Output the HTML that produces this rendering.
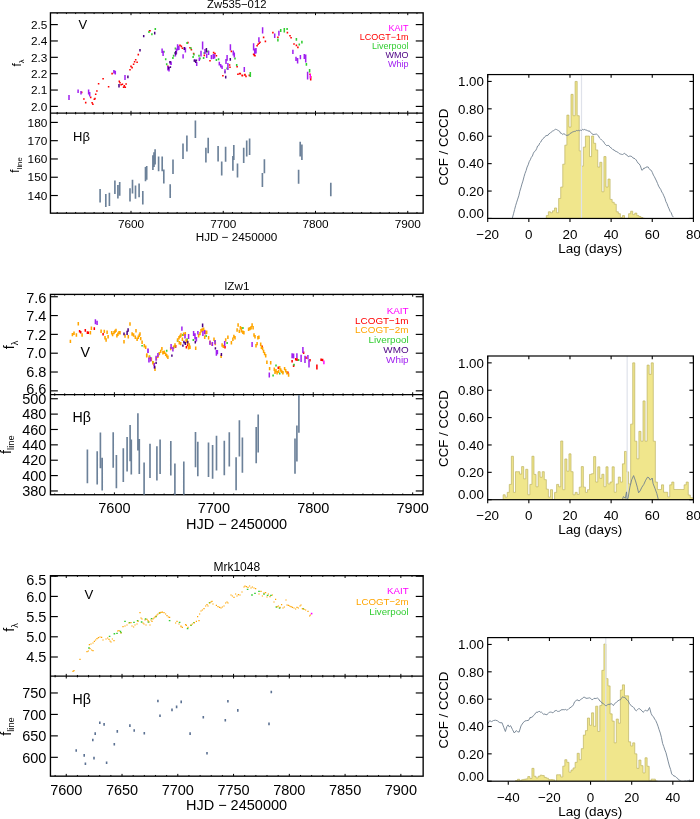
<!DOCTYPE html>
<html><head><meta charset="utf-8"><title>Light curves and CCFs</title>
<style>
html,body{margin:0;padding:0;background:#fff;}
body{width:700px;height:819px;overflow:hidden;font-family:"Liberation Sans",sans-serif;}
svg{display:block;font-family:"Liberation Sans",sans-serif;will-change:transform;transform:translateZ(0);}
</style></head><body>
<svg width="700" height="819" viewBox="0 0 700 819">
<rect width="700" height="819" fill="#fff"/>
<rect x="50.45" y="12.86" width="372.70" height="200.31" fill="none" stroke="#000" stroke-width="1.35"/>
<line x1="50.45" y1="113.17" x2="423.15" y2="113.17" stroke="#000" stroke-width="1.3"/>
<line x1="57.20" y1="12.86" x2="57.20" y2="14.06" stroke="#000" stroke-width="1.0"/>
<line x1="57.20" y1="111.97" x2="57.20" y2="114.37" stroke="#000" stroke-width="1.0"/>
<line x1="57.20" y1="211.97" x2="57.20" y2="213.17" stroke="#000" stroke-width="1.0"/>
<line x1="66.42" y1="12.86" x2="66.42" y2="14.06" stroke="#000" stroke-width="1.0"/>
<line x1="66.42" y1="111.97" x2="66.42" y2="114.37" stroke="#000" stroke-width="1.0"/>
<line x1="66.42" y1="211.97" x2="66.42" y2="213.17" stroke="#000" stroke-width="1.0"/>
<line x1="75.65" y1="12.86" x2="75.65" y2="14.06" stroke="#000" stroke-width="1.0"/>
<line x1="75.65" y1="111.97" x2="75.65" y2="114.37" stroke="#000" stroke-width="1.0"/>
<line x1="75.65" y1="211.97" x2="75.65" y2="213.17" stroke="#000" stroke-width="1.0"/>
<line x1="84.88" y1="12.86" x2="84.88" y2="14.06" stroke="#000" stroke-width="1.0"/>
<line x1="84.88" y1="111.97" x2="84.88" y2="114.37" stroke="#000" stroke-width="1.0"/>
<line x1="84.88" y1="211.97" x2="84.88" y2="213.17" stroke="#000" stroke-width="1.0"/>
<line x1="94.10" y1="12.86" x2="94.10" y2="14.06" stroke="#000" stroke-width="1.0"/>
<line x1="94.10" y1="111.97" x2="94.10" y2="114.37" stroke="#000" stroke-width="1.0"/>
<line x1="94.10" y1="211.97" x2="94.10" y2="213.17" stroke="#000" stroke-width="1.0"/>
<line x1="103.33" y1="12.86" x2="103.33" y2="14.06" stroke="#000" stroke-width="1.0"/>
<line x1="103.33" y1="111.97" x2="103.33" y2="114.37" stroke="#000" stroke-width="1.0"/>
<line x1="103.33" y1="211.97" x2="103.33" y2="213.17" stroke="#000" stroke-width="1.0"/>
<line x1="112.55" y1="12.86" x2="112.55" y2="14.06" stroke="#000" stroke-width="1.0"/>
<line x1="112.55" y1="111.97" x2="112.55" y2="114.37" stroke="#000" stroke-width="1.0"/>
<line x1="112.55" y1="211.97" x2="112.55" y2="213.17" stroke="#000" stroke-width="1.0"/>
<line x1="121.78" y1="12.86" x2="121.78" y2="14.06" stroke="#000" stroke-width="1.0"/>
<line x1="121.78" y1="111.97" x2="121.78" y2="114.37" stroke="#000" stroke-width="1.0"/>
<line x1="121.78" y1="211.97" x2="121.78" y2="213.17" stroke="#000" stroke-width="1.0"/>
<line x1="131.00" y1="12.86" x2="131.00" y2="15.16" stroke="#000" stroke-width="1.0"/>
<line x1="131.00" y1="110.87" x2="131.00" y2="115.47" stroke="#000" stroke-width="1.0"/>
<line x1="131.00" y1="210.87" x2="131.00" y2="213.17" stroke="#000" stroke-width="1.0"/>
<text x="131.00" y="227.80" font-size="11.8" text-anchor="middle" fill="#000" >7600</text>
<line x1="140.22" y1="12.86" x2="140.22" y2="14.06" stroke="#000" stroke-width="1.0"/>
<line x1="140.22" y1="111.97" x2="140.22" y2="114.37" stroke="#000" stroke-width="1.0"/>
<line x1="140.22" y1="211.97" x2="140.22" y2="213.17" stroke="#000" stroke-width="1.0"/>
<line x1="149.45" y1="12.86" x2="149.45" y2="14.06" stroke="#000" stroke-width="1.0"/>
<line x1="149.45" y1="111.97" x2="149.45" y2="114.37" stroke="#000" stroke-width="1.0"/>
<line x1="149.45" y1="211.97" x2="149.45" y2="213.17" stroke="#000" stroke-width="1.0"/>
<line x1="158.68" y1="12.86" x2="158.68" y2="14.06" stroke="#000" stroke-width="1.0"/>
<line x1="158.68" y1="111.97" x2="158.68" y2="114.37" stroke="#000" stroke-width="1.0"/>
<line x1="158.68" y1="211.97" x2="158.68" y2="213.17" stroke="#000" stroke-width="1.0"/>
<line x1="167.90" y1="12.86" x2="167.90" y2="14.06" stroke="#000" stroke-width="1.0"/>
<line x1="167.90" y1="111.97" x2="167.90" y2="114.37" stroke="#000" stroke-width="1.0"/>
<line x1="167.90" y1="211.97" x2="167.90" y2="213.17" stroke="#000" stroke-width="1.0"/>
<line x1="177.12" y1="12.86" x2="177.12" y2="14.06" stroke="#000" stroke-width="1.0"/>
<line x1="177.12" y1="111.97" x2="177.12" y2="114.37" stroke="#000" stroke-width="1.0"/>
<line x1="177.12" y1="211.97" x2="177.12" y2="213.17" stroke="#000" stroke-width="1.0"/>
<line x1="186.35" y1="12.86" x2="186.35" y2="14.06" stroke="#000" stroke-width="1.0"/>
<line x1="186.35" y1="111.97" x2="186.35" y2="114.37" stroke="#000" stroke-width="1.0"/>
<line x1="186.35" y1="211.97" x2="186.35" y2="213.17" stroke="#000" stroke-width="1.0"/>
<line x1="195.57" y1="12.86" x2="195.57" y2="14.06" stroke="#000" stroke-width="1.0"/>
<line x1="195.57" y1="111.97" x2="195.57" y2="114.37" stroke="#000" stroke-width="1.0"/>
<line x1="195.57" y1="211.97" x2="195.57" y2="213.17" stroke="#000" stroke-width="1.0"/>
<line x1="204.80" y1="12.86" x2="204.80" y2="14.06" stroke="#000" stroke-width="1.0"/>
<line x1="204.80" y1="111.97" x2="204.80" y2="114.37" stroke="#000" stroke-width="1.0"/>
<line x1="204.80" y1="211.97" x2="204.80" y2="213.17" stroke="#000" stroke-width="1.0"/>
<line x1="214.03" y1="12.86" x2="214.03" y2="14.06" stroke="#000" stroke-width="1.0"/>
<line x1="214.03" y1="111.97" x2="214.03" y2="114.37" stroke="#000" stroke-width="1.0"/>
<line x1="214.03" y1="211.97" x2="214.03" y2="213.17" stroke="#000" stroke-width="1.0"/>
<line x1="223.25" y1="12.86" x2="223.25" y2="15.16" stroke="#000" stroke-width="1.0"/>
<line x1="223.25" y1="110.87" x2="223.25" y2="115.47" stroke="#000" stroke-width="1.0"/>
<line x1="223.25" y1="210.87" x2="223.25" y2="213.17" stroke="#000" stroke-width="1.0"/>
<text x="223.25" y="227.80" font-size="11.8" text-anchor="middle" fill="#000" >7700</text>
<line x1="232.47" y1="12.86" x2="232.47" y2="14.06" stroke="#000" stroke-width="1.0"/>
<line x1="232.47" y1="111.97" x2="232.47" y2="114.37" stroke="#000" stroke-width="1.0"/>
<line x1="232.47" y1="211.97" x2="232.47" y2="213.17" stroke="#000" stroke-width="1.0"/>
<line x1="241.70" y1="12.86" x2="241.70" y2="14.06" stroke="#000" stroke-width="1.0"/>
<line x1="241.70" y1="111.97" x2="241.70" y2="114.37" stroke="#000" stroke-width="1.0"/>
<line x1="241.70" y1="211.97" x2="241.70" y2="213.17" stroke="#000" stroke-width="1.0"/>
<line x1="250.93" y1="12.86" x2="250.93" y2="14.06" stroke="#000" stroke-width="1.0"/>
<line x1="250.93" y1="111.97" x2="250.93" y2="114.37" stroke="#000" stroke-width="1.0"/>
<line x1="250.93" y1="211.97" x2="250.93" y2="213.17" stroke="#000" stroke-width="1.0"/>
<line x1="260.15" y1="12.86" x2="260.15" y2="14.06" stroke="#000" stroke-width="1.0"/>
<line x1="260.15" y1="111.97" x2="260.15" y2="114.37" stroke="#000" stroke-width="1.0"/>
<line x1="260.15" y1="211.97" x2="260.15" y2="213.17" stroke="#000" stroke-width="1.0"/>
<line x1="269.38" y1="12.86" x2="269.38" y2="14.06" stroke="#000" stroke-width="1.0"/>
<line x1="269.38" y1="111.97" x2="269.38" y2="114.37" stroke="#000" stroke-width="1.0"/>
<line x1="269.38" y1="211.97" x2="269.38" y2="213.17" stroke="#000" stroke-width="1.0"/>
<line x1="278.60" y1="12.86" x2="278.60" y2="14.06" stroke="#000" stroke-width="1.0"/>
<line x1="278.60" y1="111.97" x2="278.60" y2="114.37" stroke="#000" stroke-width="1.0"/>
<line x1="278.60" y1="211.97" x2="278.60" y2="213.17" stroke="#000" stroke-width="1.0"/>
<line x1="287.82" y1="12.86" x2="287.82" y2="14.06" stroke="#000" stroke-width="1.0"/>
<line x1="287.82" y1="111.97" x2="287.82" y2="114.37" stroke="#000" stroke-width="1.0"/>
<line x1="287.82" y1="211.97" x2="287.82" y2="213.17" stroke="#000" stroke-width="1.0"/>
<line x1="297.05" y1="12.86" x2="297.05" y2="14.06" stroke="#000" stroke-width="1.0"/>
<line x1="297.05" y1="111.97" x2="297.05" y2="114.37" stroke="#000" stroke-width="1.0"/>
<line x1="297.05" y1="211.97" x2="297.05" y2="213.17" stroke="#000" stroke-width="1.0"/>
<line x1="306.27" y1="12.86" x2="306.27" y2="14.06" stroke="#000" stroke-width="1.0"/>
<line x1="306.27" y1="111.97" x2="306.27" y2="114.37" stroke="#000" stroke-width="1.0"/>
<line x1="306.27" y1="211.97" x2="306.27" y2="213.17" stroke="#000" stroke-width="1.0"/>
<line x1="315.50" y1="12.86" x2="315.50" y2="15.16" stroke="#000" stroke-width="1.0"/>
<line x1="315.50" y1="110.87" x2="315.50" y2="115.47" stroke="#000" stroke-width="1.0"/>
<line x1="315.50" y1="210.87" x2="315.50" y2="213.17" stroke="#000" stroke-width="1.0"/>
<text x="315.50" y="227.80" font-size="11.8" text-anchor="middle" fill="#000" >7800</text>
<line x1="324.73" y1="12.86" x2="324.73" y2="14.06" stroke="#000" stroke-width="1.0"/>
<line x1="324.73" y1="111.97" x2="324.73" y2="114.37" stroke="#000" stroke-width="1.0"/>
<line x1="324.73" y1="211.97" x2="324.73" y2="213.17" stroke="#000" stroke-width="1.0"/>
<line x1="333.95" y1="12.86" x2="333.95" y2="14.06" stroke="#000" stroke-width="1.0"/>
<line x1="333.95" y1="111.97" x2="333.95" y2="114.37" stroke="#000" stroke-width="1.0"/>
<line x1="333.95" y1="211.97" x2="333.95" y2="213.17" stroke="#000" stroke-width="1.0"/>
<line x1="343.17" y1="12.86" x2="343.17" y2="14.06" stroke="#000" stroke-width="1.0"/>
<line x1="343.17" y1="111.97" x2="343.17" y2="114.37" stroke="#000" stroke-width="1.0"/>
<line x1="343.17" y1="211.97" x2="343.17" y2="213.17" stroke="#000" stroke-width="1.0"/>
<line x1="352.40" y1="12.86" x2="352.40" y2="14.06" stroke="#000" stroke-width="1.0"/>
<line x1="352.40" y1="111.97" x2="352.40" y2="114.37" stroke="#000" stroke-width="1.0"/>
<line x1="352.40" y1="211.97" x2="352.40" y2="213.17" stroke="#000" stroke-width="1.0"/>
<line x1="361.62" y1="12.86" x2="361.62" y2="14.06" stroke="#000" stroke-width="1.0"/>
<line x1="361.62" y1="111.97" x2="361.62" y2="114.37" stroke="#000" stroke-width="1.0"/>
<line x1="361.62" y1="211.97" x2="361.62" y2="213.17" stroke="#000" stroke-width="1.0"/>
<line x1="370.85" y1="12.86" x2="370.85" y2="14.06" stroke="#000" stroke-width="1.0"/>
<line x1="370.85" y1="111.97" x2="370.85" y2="114.37" stroke="#000" stroke-width="1.0"/>
<line x1="370.85" y1="211.97" x2="370.85" y2="213.17" stroke="#000" stroke-width="1.0"/>
<line x1="380.07" y1="12.86" x2="380.07" y2="14.06" stroke="#000" stroke-width="1.0"/>
<line x1="380.07" y1="111.97" x2="380.07" y2="114.37" stroke="#000" stroke-width="1.0"/>
<line x1="380.07" y1="211.97" x2="380.07" y2="213.17" stroke="#000" stroke-width="1.0"/>
<line x1="389.30" y1="12.86" x2="389.30" y2="14.06" stroke="#000" stroke-width="1.0"/>
<line x1="389.30" y1="111.97" x2="389.30" y2="114.37" stroke="#000" stroke-width="1.0"/>
<line x1="389.30" y1="211.97" x2="389.30" y2="213.17" stroke="#000" stroke-width="1.0"/>
<line x1="398.52" y1="12.86" x2="398.52" y2="14.06" stroke="#000" stroke-width="1.0"/>
<line x1="398.52" y1="111.97" x2="398.52" y2="114.37" stroke="#000" stroke-width="1.0"/>
<line x1="398.52" y1="211.97" x2="398.52" y2="213.17" stroke="#000" stroke-width="1.0"/>
<line x1="407.75" y1="12.86" x2="407.75" y2="15.16" stroke="#000" stroke-width="1.0"/>
<line x1="407.75" y1="110.87" x2="407.75" y2="115.47" stroke="#000" stroke-width="1.0"/>
<line x1="407.75" y1="210.87" x2="407.75" y2="213.17" stroke="#000" stroke-width="1.0"/>
<text x="407.75" y="227.80" font-size="11.8" text-anchor="middle" fill="#000" >7900</text>
<line x1="416.98" y1="12.86" x2="416.98" y2="14.06" stroke="#000" stroke-width="1.0"/>
<line x1="416.98" y1="111.97" x2="416.98" y2="114.37" stroke="#000" stroke-width="1.0"/>
<line x1="416.98" y1="211.97" x2="416.98" y2="213.17" stroke="#000" stroke-width="1.0"/>
<line x1="50.45" y1="24.60" x2="57.85" y2="24.60" stroke="#000" stroke-width="1.15"/>
<line x1="415.75" y1="24.60" x2="423.15" y2="24.60" stroke="#000" stroke-width="1.15"/>
<text x="47.30" y="28.82" font-size="11.8" text-anchor="end" fill="#000" >2.5</text>
<line x1="50.45" y1="40.96" x2="57.85" y2="40.96" stroke="#000" stroke-width="1.15"/>
<line x1="415.75" y1="40.96" x2="423.15" y2="40.96" stroke="#000" stroke-width="1.15"/>
<text x="47.30" y="45.18" font-size="11.8" text-anchor="end" fill="#000" >2.4</text>
<line x1="50.45" y1="57.32" x2="57.85" y2="57.32" stroke="#000" stroke-width="1.15"/>
<line x1="415.75" y1="57.32" x2="423.15" y2="57.32" stroke="#000" stroke-width="1.15"/>
<text x="47.30" y="61.54" font-size="11.8" text-anchor="end" fill="#000" >2.3</text>
<line x1="50.45" y1="73.68" x2="57.85" y2="73.68" stroke="#000" stroke-width="1.15"/>
<line x1="415.75" y1="73.68" x2="423.15" y2="73.68" stroke="#000" stroke-width="1.15"/>
<text x="47.30" y="77.90" font-size="11.8" text-anchor="end" fill="#000" >2.2</text>
<line x1="50.45" y1="90.04" x2="57.85" y2="90.04" stroke="#000" stroke-width="1.15"/>
<line x1="415.75" y1="90.04" x2="423.15" y2="90.04" stroke="#000" stroke-width="1.15"/>
<text x="47.30" y="94.26" font-size="11.8" text-anchor="end" fill="#000" >2.1</text>
<line x1="50.45" y1="106.40" x2="57.85" y2="106.40" stroke="#000" stroke-width="1.15"/>
<line x1="415.75" y1="106.40" x2="423.15" y2="106.40" stroke="#000" stroke-width="1.15"/>
<text x="47.30" y="110.62" font-size="11.8" text-anchor="end" fill="#000" >2.0</text>
<line x1="50.45" y1="122.40" x2="57.85" y2="122.40" stroke="#000" stroke-width="1.15"/>
<line x1="415.75" y1="122.40" x2="423.15" y2="122.40" stroke="#000" stroke-width="1.15"/>
<text x="47.30" y="126.62" font-size="11.8" text-anchor="end" fill="#000" >180</text>
<line x1="50.45" y1="140.68" x2="57.85" y2="140.68" stroke="#000" stroke-width="1.15"/>
<line x1="415.75" y1="140.68" x2="423.15" y2="140.68" stroke="#000" stroke-width="1.15"/>
<text x="47.30" y="144.90" font-size="11.8" text-anchor="end" fill="#000" >170</text>
<line x1="50.45" y1="158.96" x2="57.85" y2="158.96" stroke="#000" stroke-width="1.15"/>
<line x1="415.75" y1="158.96" x2="423.15" y2="158.96" stroke="#000" stroke-width="1.15"/>
<text x="47.30" y="163.18" font-size="11.8" text-anchor="end" fill="#000" >160</text>
<line x1="50.45" y1="177.24" x2="57.85" y2="177.24" stroke="#000" stroke-width="1.15"/>
<line x1="415.75" y1="177.24" x2="423.15" y2="177.24" stroke="#000" stroke-width="1.15"/>
<text x="47.30" y="181.46" font-size="11.8" text-anchor="end" fill="#000" >150</text>
<line x1="50.45" y1="195.52" x2="57.85" y2="195.52" stroke="#000" stroke-width="1.15"/>
<line x1="415.75" y1="195.52" x2="423.15" y2="195.52" stroke="#000" stroke-width="1.15"/>
<text x="47.30" y="199.74" font-size="11.8" text-anchor="end" fill="#000" >140</text>
<text x="236.80" y="8.10" font-size="11.3" text-anchor="middle" fill="#000" >Zw535−012</text>
<text x="236.50" y="240.70" font-size="11.7" text-anchor="middle" fill="#000" >HJD − 2450000</text>
<text transform="translate(21.0,63.0) rotate(-90)" font-size="12" text-anchor="middle">f<tspan font-size="7.7" dy="3.2">λ</tspan></text>
<text transform="translate(18.8,165.0) rotate(-90)" font-size="12" text-anchor="middle">f<tspan font-size="7.7" dy="3.2">line</tspan></text>
<text x="78.40" y="28.80" font-size="13" text-anchor="start" fill="#000" >V</text>
<text x="73.00" y="140.80" font-size="13" text-anchor="start" fill="#000" >Hβ</text>
<text x="408.60" y="30.60" font-size="9.0" text-anchor="end" fill="#ff00ff" >KAIT</text>
<text x="408.60" y="39.60" font-size="9.0" text-anchor="end" fill="#ff0000" >LCOGT−1m</text>
<text x="408.60" y="48.60" font-size="9.0" text-anchor="end" fill="#32cd32" >Liverpool</text>
<text x="408.60" y="57.60" font-size="9.0" text-anchor="end" fill="#4b0082" >WMO</text>
<text x="408.60" y="66.60" font-size="9.0" text-anchor="end" fill="#a020f0" >Whip</text>
<rect x="50.45" y="294.40" width="372.70" height="200.32" fill="none" stroke="#000" stroke-width="1.35"/>
<line x1="50.45" y1="394.57" x2="423.15" y2="394.57" stroke="#000" stroke-width="1.3"/>
<line x1="54.74" y1="294.40" x2="54.74" y2="295.60" stroke="#000" stroke-width="1.0"/>
<line x1="54.74" y1="393.37" x2="54.74" y2="395.77" stroke="#000" stroke-width="1.0"/>
<line x1="54.74" y1="493.52" x2="54.74" y2="494.72" stroke="#000" stroke-width="1.0"/>
<line x1="64.69" y1="294.40" x2="64.69" y2="295.60" stroke="#000" stroke-width="1.0"/>
<line x1="64.69" y1="393.37" x2="64.69" y2="395.77" stroke="#000" stroke-width="1.0"/>
<line x1="64.69" y1="493.52" x2="64.69" y2="494.72" stroke="#000" stroke-width="1.0"/>
<line x1="74.63" y1="294.40" x2="74.63" y2="295.60" stroke="#000" stroke-width="1.0"/>
<line x1="74.63" y1="393.37" x2="74.63" y2="395.77" stroke="#000" stroke-width="1.0"/>
<line x1="74.63" y1="493.52" x2="74.63" y2="494.72" stroke="#000" stroke-width="1.0"/>
<line x1="84.57" y1="294.40" x2="84.57" y2="295.60" stroke="#000" stroke-width="1.0"/>
<line x1="84.57" y1="393.37" x2="84.57" y2="395.77" stroke="#000" stroke-width="1.0"/>
<line x1="84.57" y1="493.52" x2="84.57" y2="494.72" stroke="#000" stroke-width="1.0"/>
<line x1="94.51" y1="294.40" x2="94.51" y2="295.60" stroke="#000" stroke-width="1.0"/>
<line x1="94.51" y1="393.37" x2="94.51" y2="395.77" stroke="#000" stroke-width="1.0"/>
<line x1="94.51" y1="493.52" x2="94.51" y2="494.72" stroke="#000" stroke-width="1.0"/>
<line x1="104.46" y1="294.40" x2="104.46" y2="295.60" stroke="#000" stroke-width="1.0"/>
<line x1="104.46" y1="393.37" x2="104.46" y2="395.77" stroke="#000" stroke-width="1.0"/>
<line x1="104.46" y1="493.52" x2="104.46" y2="494.72" stroke="#000" stroke-width="1.0"/>
<line x1="114.40" y1="294.40" x2="114.40" y2="296.70" stroke="#000" stroke-width="1.0"/>
<line x1="114.40" y1="392.27" x2="114.40" y2="396.87" stroke="#000" stroke-width="1.0"/>
<line x1="114.40" y1="492.42" x2="114.40" y2="494.72" stroke="#000" stroke-width="1.0"/>
<text x="114.40" y="513.00" font-size="14.5" text-anchor="middle" fill="#000" >7600</text>
<line x1="124.34" y1="294.40" x2="124.34" y2="295.60" stroke="#000" stroke-width="1.0"/>
<line x1="124.34" y1="393.37" x2="124.34" y2="395.77" stroke="#000" stroke-width="1.0"/>
<line x1="124.34" y1="493.52" x2="124.34" y2="494.72" stroke="#000" stroke-width="1.0"/>
<line x1="134.29" y1="294.40" x2="134.29" y2="295.60" stroke="#000" stroke-width="1.0"/>
<line x1="134.29" y1="393.37" x2="134.29" y2="395.77" stroke="#000" stroke-width="1.0"/>
<line x1="134.29" y1="493.52" x2="134.29" y2="494.72" stroke="#000" stroke-width="1.0"/>
<line x1="144.23" y1="294.40" x2="144.23" y2="295.60" stroke="#000" stroke-width="1.0"/>
<line x1="144.23" y1="393.37" x2="144.23" y2="395.77" stroke="#000" stroke-width="1.0"/>
<line x1="144.23" y1="493.52" x2="144.23" y2="494.72" stroke="#000" stroke-width="1.0"/>
<line x1="154.17" y1="294.40" x2="154.17" y2="295.60" stroke="#000" stroke-width="1.0"/>
<line x1="154.17" y1="393.37" x2="154.17" y2="395.77" stroke="#000" stroke-width="1.0"/>
<line x1="154.17" y1="493.52" x2="154.17" y2="494.72" stroke="#000" stroke-width="1.0"/>
<line x1="164.12" y1="294.40" x2="164.12" y2="295.60" stroke="#000" stroke-width="1.0"/>
<line x1="164.12" y1="393.37" x2="164.12" y2="395.77" stroke="#000" stroke-width="1.0"/>
<line x1="164.12" y1="493.52" x2="164.12" y2="494.72" stroke="#000" stroke-width="1.0"/>
<line x1="174.06" y1="294.40" x2="174.06" y2="295.60" stroke="#000" stroke-width="1.0"/>
<line x1="174.06" y1="393.37" x2="174.06" y2="395.77" stroke="#000" stroke-width="1.0"/>
<line x1="174.06" y1="493.52" x2="174.06" y2="494.72" stroke="#000" stroke-width="1.0"/>
<line x1="184.00" y1="294.40" x2="184.00" y2="295.60" stroke="#000" stroke-width="1.0"/>
<line x1="184.00" y1="393.37" x2="184.00" y2="395.77" stroke="#000" stroke-width="1.0"/>
<line x1="184.00" y1="493.52" x2="184.00" y2="494.72" stroke="#000" stroke-width="1.0"/>
<line x1="193.94" y1="294.40" x2="193.94" y2="295.60" stroke="#000" stroke-width="1.0"/>
<line x1="193.94" y1="393.37" x2="193.94" y2="395.77" stroke="#000" stroke-width="1.0"/>
<line x1="193.94" y1="493.52" x2="193.94" y2="494.72" stroke="#000" stroke-width="1.0"/>
<line x1="203.89" y1="294.40" x2="203.89" y2="295.60" stroke="#000" stroke-width="1.0"/>
<line x1="203.89" y1="393.37" x2="203.89" y2="395.77" stroke="#000" stroke-width="1.0"/>
<line x1="203.89" y1="493.52" x2="203.89" y2="494.72" stroke="#000" stroke-width="1.0"/>
<line x1="213.83" y1="294.40" x2="213.83" y2="296.70" stroke="#000" stroke-width="1.0"/>
<line x1="213.83" y1="392.27" x2="213.83" y2="396.87" stroke="#000" stroke-width="1.0"/>
<line x1="213.83" y1="492.42" x2="213.83" y2="494.72" stroke="#000" stroke-width="1.0"/>
<text x="213.83" y="513.00" font-size="14.5" text-anchor="middle" fill="#000" >7700</text>
<line x1="223.77" y1="294.40" x2="223.77" y2="295.60" stroke="#000" stroke-width="1.0"/>
<line x1="223.77" y1="393.37" x2="223.77" y2="395.77" stroke="#000" stroke-width="1.0"/>
<line x1="223.77" y1="493.52" x2="223.77" y2="494.72" stroke="#000" stroke-width="1.0"/>
<line x1="233.72" y1="294.40" x2="233.72" y2="295.60" stroke="#000" stroke-width="1.0"/>
<line x1="233.72" y1="393.37" x2="233.72" y2="395.77" stroke="#000" stroke-width="1.0"/>
<line x1="233.72" y1="493.52" x2="233.72" y2="494.72" stroke="#000" stroke-width="1.0"/>
<line x1="243.66" y1="294.40" x2="243.66" y2="295.60" stroke="#000" stroke-width="1.0"/>
<line x1="243.66" y1="393.37" x2="243.66" y2="395.77" stroke="#000" stroke-width="1.0"/>
<line x1="243.66" y1="493.52" x2="243.66" y2="494.72" stroke="#000" stroke-width="1.0"/>
<line x1="253.60" y1="294.40" x2="253.60" y2="295.60" stroke="#000" stroke-width="1.0"/>
<line x1="253.60" y1="393.37" x2="253.60" y2="395.77" stroke="#000" stroke-width="1.0"/>
<line x1="253.60" y1="493.52" x2="253.60" y2="494.72" stroke="#000" stroke-width="1.0"/>
<line x1="263.54" y1="294.40" x2="263.54" y2="295.60" stroke="#000" stroke-width="1.0"/>
<line x1="263.54" y1="393.37" x2="263.54" y2="395.77" stroke="#000" stroke-width="1.0"/>
<line x1="263.54" y1="493.52" x2="263.54" y2="494.72" stroke="#000" stroke-width="1.0"/>
<line x1="273.49" y1="294.40" x2="273.49" y2="295.60" stroke="#000" stroke-width="1.0"/>
<line x1="273.49" y1="393.37" x2="273.49" y2="395.77" stroke="#000" stroke-width="1.0"/>
<line x1="273.49" y1="493.52" x2="273.49" y2="494.72" stroke="#000" stroke-width="1.0"/>
<line x1="283.43" y1="294.40" x2="283.43" y2="295.60" stroke="#000" stroke-width="1.0"/>
<line x1="283.43" y1="393.37" x2="283.43" y2="395.77" stroke="#000" stroke-width="1.0"/>
<line x1="283.43" y1="493.52" x2="283.43" y2="494.72" stroke="#000" stroke-width="1.0"/>
<line x1="293.37" y1="294.40" x2="293.37" y2="295.60" stroke="#000" stroke-width="1.0"/>
<line x1="293.37" y1="393.37" x2="293.37" y2="395.77" stroke="#000" stroke-width="1.0"/>
<line x1="293.37" y1="493.52" x2="293.37" y2="494.72" stroke="#000" stroke-width="1.0"/>
<line x1="303.32" y1="294.40" x2="303.32" y2="295.60" stroke="#000" stroke-width="1.0"/>
<line x1="303.32" y1="393.37" x2="303.32" y2="395.77" stroke="#000" stroke-width="1.0"/>
<line x1="303.32" y1="493.52" x2="303.32" y2="494.72" stroke="#000" stroke-width="1.0"/>
<line x1="313.26" y1="294.40" x2="313.26" y2="296.70" stroke="#000" stroke-width="1.0"/>
<line x1="313.26" y1="392.27" x2="313.26" y2="396.87" stroke="#000" stroke-width="1.0"/>
<line x1="313.26" y1="492.42" x2="313.26" y2="494.72" stroke="#000" stroke-width="1.0"/>
<text x="313.26" y="513.00" font-size="14.5" text-anchor="middle" fill="#000" >7800</text>
<line x1="323.20" y1="294.40" x2="323.20" y2="295.60" stroke="#000" stroke-width="1.0"/>
<line x1="323.20" y1="393.37" x2="323.20" y2="395.77" stroke="#000" stroke-width="1.0"/>
<line x1="323.20" y1="493.52" x2="323.20" y2="494.72" stroke="#000" stroke-width="1.0"/>
<line x1="333.15" y1="294.40" x2="333.15" y2="295.60" stroke="#000" stroke-width="1.0"/>
<line x1="333.15" y1="393.37" x2="333.15" y2="395.77" stroke="#000" stroke-width="1.0"/>
<line x1="333.15" y1="493.52" x2="333.15" y2="494.72" stroke="#000" stroke-width="1.0"/>
<line x1="343.09" y1="294.40" x2="343.09" y2="295.60" stroke="#000" stroke-width="1.0"/>
<line x1="343.09" y1="393.37" x2="343.09" y2="395.77" stroke="#000" stroke-width="1.0"/>
<line x1="343.09" y1="493.52" x2="343.09" y2="494.72" stroke="#000" stroke-width="1.0"/>
<line x1="353.03" y1="294.40" x2="353.03" y2="295.60" stroke="#000" stroke-width="1.0"/>
<line x1="353.03" y1="393.37" x2="353.03" y2="395.77" stroke="#000" stroke-width="1.0"/>
<line x1="353.03" y1="493.52" x2="353.03" y2="494.72" stroke="#000" stroke-width="1.0"/>
<line x1="362.98" y1="294.40" x2="362.98" y2="295.60" stroke="#000" stroke-width="1.0"/>
<line x1="362.98" y1="393.37" x2="362.98" y2="395.77" stroke="#000" stroke-width="1.0"/>
<line x1="362.98" y1="493.52" x2="362.98" y2="494.72" stroke="#000" stroke-width="1.0"/>
<line x1="372.92" y1="294.40" x2="372.92" y2="295.60" stroke="#000" stroke-width="1.0"/>
<line x1="372.92" y1="393.37" x2="372.92" y2="395.77" stroke="#000" stroke-width="1.0"/>
<line x1="372.92" y1="493.52" x2="372.92" y2="494.72" stroke="#000" stroke-width="1.0"/>
<line x1="382.86" y1="294.40" x2="382.86" y2="295.60" stroke="#000" stroke-width="1.0"/>
<line x1="382.86" y1="393.37" x2="382.86" y2="395.77" stroke="#000" stroke-width="1.0"/>
<line x1="382.86" y1="493.52" x2="382.86" y2="494.72" stroke="#000" stroke-width="1.0"/>
<line x1="392.80" y1="294.40" x2="392.80" y2="295.60" stroke="#000" stroke-width="1.0"/>
<line x1="392.80" y1="393.37" x2="392.80" y2="395.77" stroke="#000" stroke-width="1.0"/>
<line x1="392.80" y1="493.52" x2="392.80" y2="494.72" stroke="#000" stroke-width="1.0"/>
<line x1="402.75" y1="294.40" x2="402.75" y2="295.60" stroke="#000" stroke-width="1.0"/>
<line x1="402.75" y1="393.37" x2="402.75" y2="395.77" stroke="#000" stroke-width="1.0"/>
<line x1="402.75" y1="493.52" x2="402.75" y2="494.72" stroke="#000" stroke-width="1.0"/>
<line x1="412.69" y1="294.40" x2="412.69" y2="296.70" stroke="#000" stroke-width="1.0"/>
<line x1="412.69" y1="392.27" x2="412.69" y2="396.87" stroke="#000" stroke-width="1.0"/>
<line x1="412.69" y1="492.42" x2="412.69" y2="494.72" stroke="#000" stroke-width="1.0"/>
<text x="412.69" y="513.00" font-size="14.5" text-anchor="middle" fill="#000" >7900</text>
<line x1="422.63" y1="294.40" x2="422.63" y2="295.60" stroke="#000" stroke-width="1.0"/>
<line x1="422.63" y1="393.37" x2="422.63" y2="395.77" stroke="#000" stroke-width="1.0"/>
<line x1="422.63" y1="493.52" x2="422.63" y2="494.72" stroke="#000" stroke-width="1.0"/>
<line x1="50.45" y1="296.74" x2="57.85" y2="296.74" stroke="#000" stroke-width="1.15"/>
<line x1="415.75" y1="296.74" x2="423.15" y2="296.74" stroke="#000" stroke-width="1.15"/>
<text x="46.40" y="302.73" font-size="14.5" text-anchor="end" fill="#000" >7.6</text>
<line x1="50.45" y1="315.56" x2="57.85" y2="315.56" stroke="#000" stroke-width="1.15"/>
<line x1="415.75" y1="315.56" x2="423.15" y2="315.56" stroke="#000" stroke-width="1.15"/>
<text x="46.40" y="320.75" font-size="14.5" text-anchor="end" fill="#000" >7.4</text>
<line x1="50.45" y1="334.38" x2="57.85" y2="334.38" stroke="#000" stroke-width="1.15"/>
<line x1="415.75" y1="334.38" x2="423.15" y2="334.38" stroke="#000" stroke-width="1.15"/>
<text x="46.40" y="339.57" font-size="14.5" text-anchor="end" fill="#000" >7.2</text>
<line x1="50.45" y1="353.20" x2="57.85" y2="353.20" stroke="#000" stroke-width="1.15"/>
<line x1="415.75" y1="353.20" x2="423.15" y2="353.20" stroke="#000" stroke-width="1.15"/>
<text x="46.40" y="358.39" font-size="14.5" text-anchor="end" fill="#000" >7.0</text>
<line x1="50.45" y1="372.02" x2="57.85" y2="372.02" stroke="#000" stroke-width="1.15"/>
<line x1="415.75" y1="372.02" x2="423.15" y2="372.02" stroke="#000" stroke-width="1.15"/>
<text x="46.40" y="377.21" font-size="14.5" text-anchor="end" fill="#000" >6.8</text>
<line x1="50.45" y1="390.84" x2="57.85" y2="390.84" stroke="#000" stroke-width="1.15"/>
<line x1="415.75" y1="390.84" x2="423.15" y2="390.84" stroke="#000" stroke-width="1.15"/>
<text x="46.40" y="393.93" font-size="14.5" text-anchor="end" fill="#000" >6.6</text>
<line x1="50.45" y1="398.74" x2="57.85" y2="398.74" stroke="#000" stroke-width="1.15"/>
<line x1="415.75" y1="398.74" x2="423.15" y2="398.74" stroke="#000" stroke-width="1.15"/>
<text x="46.40" y="403.63" font-size="14.5" text-anchor="end" fill="#000" >500</text>
<line x1="50.45" y1="414.11" x2="57.85" y2="414.11" stroke="#000" stroke-width="1.15"/>
<line x1="415.75" y1="414.11" x2="423.15" y2="414.11" stroke="#000" stroke-width="1.15"/>
<text x="46.40" y="419.30" font-size="14.5" text-anchor="end" fill="#000" >480</text>
<line x1="50.45" y1="429.48" x2="57.85" y2="429.48" stroke="#000" stroke-width="1.15"/>
<line x1="415.75" y1="429.48" x2="423.15" y2="429.48" stroke="#000" stroke-width="1.15"/>
<text x="46.40" y="434.67" font-size="14.5" text-anchor="end" fill="#000" >460</text>
<line x1="50.45" y1="444.85" x2="57.85" y2="444.85" stroke="#000" stroke-width="1.15"/>
<line x1="415.75" y1="444.85" x2="423.15" y2="444.85" stroke="#000" stroke-width="1.15"/>
<text x="46.40" y="450.04" font-size="14.5" text-anchor="end" fill="#000" >440</text>
<line x1="50.45" y1="460.22" x2="57.85" y2="460.22" stroke="#000" stroke-width="1.15"/>
<line x1="415.75" y1="460.22" x2="423.15" y2="460.22" stroke="#000" stroke-width="1.15"/>
<text x="46.40" y="465.41" font-size="14.5" text-anchor="end" fill="#000" >420</text>
<line x1="50.45" y1="475.59" x2="57.85" y2="475.59" stroke="#000" stroke-width="1.15"/>
<line x1="415.75" y1="475.59" x2="423.15" y2="475.59" stroke="#000" stroke-width="1.15"/>
<text x="46.40" y="480.78" font-size="14.5" text-anchor="end" fill="#000" >400</text>
<line x1="50.45" y1="490.96" x2="57.85" y2="490.96" stroke="#000" stroke-width="1.15"/>
<line x1="415.75" y1="490.96" x2="423.15" y2="490.96" stroke="#000" stroke-width="1.15"/>
<text x="46.40" y="496.15" font-size="14.5" text-anchor="end" fill="#000" >380</text>
<text x="236.80" y="289.50" font-size="11.7" text-anchor="middle" fill="#000" >IZw1</text>
<text x="236.50" y="528.60" font-size="14.5" text-anchor="middle" fill="#000" >HJD − 2450000</text>
<text transform="translate(14.4,345.0) rotate(-90)" font-size="14.6" text-anchor="middle">f<tspan font-size="9.3" dy="3.9">λ</tspan></text>
<text transform="translate(10.5,444.7) rotate(-90)" font-size="14.6" text-anchor="middle">f<tspan font-size="9.3" dy="3.9">line</tspan></text>
<text x="80.40" y="356.70" font-size="14.3" text-anchor="start" fill="#000" >V</text>
<text x="72.60" y="422.20" font-size="14.2" text-anchor="start" fill="#000" >Hβ</text>
<text x="408.60" y="313.80" font-size="9.9" text-anchor="end" fill="#ff00ff" >KAIT</text>
<text x="408.60" y="323.54" font-size="9.9" text-anchor="end" fill="#ff0000" >LCOGT−1m</text>
<text x="408.60" y="333.28" font-size="9.9" text-anchor="end" fill="#ffa500" >LCOGT−2m</text>
<text x="408.60" y="343.02" font-size="9.9" text-anchor="end" fill="#32cd32" >Liverpool</text>
<text x="408.60" y="352.76" font-size="9.9" text-anchor="end" fill="#4b0082" >WMO</text>
<text x="408.60" y="362.50" font-size="9.9" text-anchor="end" fill="#a020f0" >Whip</text>
<rect x="50.45" y="575.70" width="372.70" height="200.47" fill="none" stroke="#000" stroke-width="1.35"/>
<line x1="50.45" y1="676.17" x2="423.15" y2="676.17" stroke="#000" stroke-width="1.3"/>
<line x1="55.11" y1="575.70" x2="55.11" y2="576.90" stroke="#000" stroke-width="1.0"/>
<line x1="55.11" y1="674.97" x2="55.11" y2="677.37" stroke="#000" stroke-width="1.0"/>
<line x1="55.11" y1="774.97" x2="55.11" y2="776.17" stroke="#000" stroke-width="1.0"/>
<line x1="66.26" y1="575.70" x2="66.26" y2="578.00" stroke="#000" stroke-width="1.0"/>
<line x1="66.26" y1="673.87" x2="66.26" y2="678.47" stroke="#000" stroke-width="1.0"/>
<line x1="66.26" y1="773.87" x2="66.26" y2="776.17" stroke="#000" stroke-width="1.0"/>
<text x="66.26" y="794.70" font-size="14.5" text-anchor="middle" fill="#000" >7600</text>
<line x1="77.41" y1="575.70" x2="77.41" y2="576.90" stroke="#000" stroke-width="1.0"/>
<line x1="77.41" y1="674.97" x2="77.41" y2="677.37" stroke="#000" stroke-width="1.0"/>
<line x1="77.41" y1="774.97" x2="77.41" y2="776.17" stroke="#000" stroke-width="1.0"/>
<line x1="88.57" y1="575.70" x2="88.57" y2="576.90" stroke="#000" stroke-width="1.0"/>
<line x1="88.57" y1="674.97" x2="88.57" y2="677.37" stroke="#000" stroke-width="1.0"/>
<line x1="88.57" y1="774.97" x2="88.57" y2="776.17" stroke="#000" stroke-width="1.0"/>
<line x1="99.72" y1="575.70" x2="99.72" y2="576.90" stroke="#000" stroke-width="1.0"/>
<line x1="99.72" y1="674.97" x2="99.72" y2="677.37" stroke="#000" stroke-width="1.0"/>
<line x1="99.72" y1="774.97" x2="99.72" y2="776.17" stroke="#000" stroke-width="1.0"/>
<line x1="110.87" y1="575.70" x2="110.87" y2="576.90" stroke="#000" stroke-width="1.0"/>
<line x1="110.87" y1="674.97" x2="110.87" y2="677.37" stroke="#000" stroke-width="1.0"/>
<line x1="110.87" y1="774.97" x2="110.87" y2="776.17" stroke="#000" stroke-width="1.0"/>
<line x1="122.03" y1="575.70" x2="122.03" y2="578.00" stroke="#000" stroke-width="1.0"/>
<line x1="122.03" y1="673.87" x2="122.03" y2="678.47" stroke="#000" stroke-width="1.0"/>
<line x1="122.03" y1="773.87" x2="122.03" y2="776.17" stroke="#000" stroke-width="1.0"/>
<text x="122.03" y="794.70" font-size="14.5" text-anchor="middle" fill="#000" >7650</text>
<line x1="133.18" y1="575.70" x2="133.18" y2="576.90" stroke="#000" stroke-width="1.0"/>
<line x1="133.18" y1="674.97" x2="133.18" y2="677.37" stroke="#000" stroke-width="1.0"/>
<line x1="133.18" y1="774.97" x2="133.18" y2="776.17" stroke="#000" stroke-width="1.0"/>
<line x1="144.33" y1="575.70" x2="144.33" y2="576.90" stroke="#000" stroke-width="1.0"/>
<line x1="144.33" y1="674.97" x2="144.33" y2="677.37" stroke="#000" stroke-width="1.0"/>
<line x1="144.33" y1="774.97" x2="144.33" y2="776.17" stroke="#000" stroke-width="1.0"/>
<line x1="155.48" y1="575.70" x2="155.48" y2="576.90" stroke="#000" stroke-width="1.0"/>
<line x1="155.48" y1="674.97" x2="155.48" y2="677.37" stroke="#000" stroke-width="1.0"/>
<line x1="155.48" y1="774.97" x2="155.48" y2="776.17" stroke="#000" stroke-width="1.0"/>
<line x1="166.64" y1="575.70" x2="166.64" y2="576.90" stroke="#000" stroke-width="1.0"/>
<line x1="166.64" y1="674.97" x2="166.64" y2="677.37" stroke="#000" stroke-width="1.0"/>
<line x1="166.64" y1="774.97" x2="166.64" y2="776.17" stroke="#000" stroke-width="1.0"/>
<line x1="177.79" y1="575.70" x2="177.79" y2="578.00" stroke="#000" stroke-width="1.0"/>
<line x1="177.79" y1="673.87" x2="177.79" y2="678.47" stroke="#000" stroke-width="1.0"/>
<line x1="177.79" y1="773.87" x2="177.79" y2="776.17" stroke="#000" stroke-width="1.0"/>
<text x="177.79" y="794.70" font-size="14.5" text-anchor="middle" fill="#000" >7700</text>
<line x1="188.94" y1="575.70" x2="188.94" y2="576.90" stroke="#000" stroke-width="1.0"/>
<line x1="188.94" y1="674.97" x2="188.94" y2="677.37" stroke="#000" stroke-width="1.0"/>
<line x1="188.94" y1="774.97" x2="188.94" y2="776.17" stroke="#000" stroke-width="1.0"/>
<line x1="200.10" y1="575.70" x2="200.10" y2="576.90" stroke="#000" stroke-width="1.0"/>
<line x1="200.10" y1="674.97" x2="200.10" y2="677.37" stroke="#000" stroke-width="1.0"/>
<line x1="200.10" y1="774.97" x2="200.10" y2="776.17" stroke="#000" stroke-width="1.0"/>
<line x1="211.25" y1="575.70" x2="211.25" y2="576.90" stroke="#000" stroke-width="1.0"/>
<line x1="211.25" y1="674.97" x2="211.25" y2="677.37" stroke="#000" stroke-width="1.0"/>
<line x1="211.25" y1="774.97" x2="211.25" y2="776.17" stroke="#000" stroke-width="1.0"/>
<line x1="222.40" y1="575.70" x2="222.40" y2="576.90" stroke="#000" stroke-width="1.0"/>
<line x1="222.40" y1="674.97" x2="222.40" y2="677.37" stroke="#000" stroke-width="1.0"/>
<line x1="222.40" y1="774.97" x2="222.40" y2="776.17" stroke="#000" stroke-width="1.0"/>
<line x1="233.56" y1="575.70" x2="233.56" y2="578.00" stroke="#000" stroke-width="1.0"/>
<line x1="233.56" y1="673.87" x2="233.56" y2="678.47" stroke="#000" stroke-width="1.0"/>
<line x1="233.56" y1="773.87" x2="233.56" y2="776.17" stroke="#000" stroke-width="1.0"/>
<text x="233.56" y="794.70" font-size="14.5" text-anchor="middle" fill="#000" >7750</text>
<line x1="244.71" y1="575.70" x2="244.71" y2="576.90" stroke="#000" stroke-width="1.0"/>
<line x1="244.71" y1="674.97" x2="244.71" y2="677.37" stroke="#000" stroke-width="1.0"/>
<line x1="244.71" y1="774.97" x2="244.71" y2="776.17" stroke="#000" stroke-width="1.0"/>
<line x1="255.86" y1="575.70" x2="255.86" y2="576.90" stroke="#000" stroke-width="1.0"/>
<line x1="255.86" y1="674.97" x2="255.86" y2="677.37" stroke="#000" stroke-width="1.0"/>
<line x1="255.86" y1="774.97" x2="255.86" y2="776.17" stroke="#000" stroke-width="1.0"/>
<line x1="267.01" y1="575.70" x2="267.01" y2="576.90" stroke="#000" stroke-width="1.0"/>
<line x1="267.01" y1="674.97" x2="267.01" y2="677.37" stroke="#000" stroke-width="1.0"/>
<line x1="267.01" y1="774.97" x2="267.01" y2="776.17" stroke="#000" stroke-width="1.0"/>
<line x1="278.17" y1="575.70" x2="278.17" y2="576.90" stroke="#000" stroke-width="1.0"/>
<line x1="278.17" y1="674.97" x2="278.17" y2="677.37" stroke="#000" stroke-width="1.0"/>
<line x1="278.17" y1="774.97" x2="278.17" y2="776.17" stroke="#000" stroke-width="1.0"/>
<line x1="289.32" y1="575.70" x2="289.32" y2="578.00" stroke="#000" stroke-width="1.0"/>
<line x1="289.32" y1="673.87" x2="289.32" y2="678.47" stroke="#000" stroke-width="1.0"/>
<line x1="289.32" y1="773.87" x2="289.32" y2="776.17" stroke="#000" stroke-width="1.0"/>
<text x="289.32" y="794.70" font-size="14.5" text-anchor="middle" fill="#000" >7800</text>
<line x1="300.47" y1="575.70" x2="300.47" y2="576.90" stroke="#000" stroke-width="1.0"/>
<line x1="300.47" y1="674.97" x2="300.47" y2="677.37" stroke="#000" stroke-width="1.0"/>
<line x1="300.47" y1="774.97" x2="300.47" y2="776.17" stroke="#000" stroke-width="1.0"/>
<line x1="311.63" y1="575.70" x2="311.63" y2="576.90" stroke="#000" stroke-width="1.0"/>
<line x1="311.63" y1="674.97" x2="311.63" y2="677.37" stroke="#000" stroke-width="1.0"/>
<line x1="311.63" y1="774.97" x2="311.63" y2="776.17" stroke="#000" stroke-width="1.0"/>
<line x1="322.78" y1="575.70" x2="322.78" y2="576.90" stroke="#000" stroke-width="1.0"/>
<line x1="322.78" y1="674.97" x2="322.78" y2="677.37" stroke="#000" stroke-width="1.0"/>
<line x1="322.78" y1="774.97" x2="322.78" y2="776.17" stroke="#000" stroke-width="1.0"/>
<line x1="333.93" y1="575.70" x2="333.93" y2="576.90" stroke="#000" stroke-width="1.0"/>
<line x1="333.93" y1="674.97" x2="333.93" y2="677.37" stroke="#000" stroke-width="1.0"/>
<line x1="333.93" y1="774.97" x2="333.93" y2="776.17" stroke="#000" stroke-width="1.0"/>
<line x1="345.08" y1="575.70" x2="345.08" y2="578.00" stroke="#000" stroke-width="1.0"/>
<line x1="345.08" y1="673.87" x2="345.08" y2="678.47" stroke="#000" stroke-width="1.0"/>
<line x1="345.08" y1="773.87" x2="345.08" y2="776.17" stroke="#000" stroke-width="1.0"/>
<text x="345.08" y="794.70" font-size="14.5" text-anchor="middle" fill="#000" >7850</text>
<line x1="356.24" y1="575.70" x2="356.24" y2="576.90" stroke="#000" stroke-width="1.0"/>
<line x1="356.24" y1="674.97" x2="356.24" y2="677.37" stroke="#000" stroke-width="1.0"/>
<line x1="356.24" y1="774.97" x2="356.24" y2="776.17" stroke="#000" stroke-width="1.0"/>
<line x1="367.39" y1="575.70" x2="367.39" y2="576.90" stroke="#000" stroke-width="1.0"/>
<line x1="367.39" y1="674.97" x2="367.39" y2="677.37" stroke="#000" stroke-width="1.0"/>
<line x1="367.39" y1="774.97" x2="367.39" y2="776.17" stroke="#000" stroke-width="1.0"/>
<line x1="378.54" y1="575.70" x2="378.54" y2="576.90" stroke="#000" stroke-width="1.0"/>
<line x1="378.54" y1="674.97" x2="378.54" y2="677.37" stroke="#000" stroke-width="1.0"/>
<line x1="378.54" y1="774.97" x2="378.54" y2="776.17" stroke="#000" stroke-width="1.0"/>
<line x1="389.70" y1="575.70" x2="389.70" y2="576.90" stroke="#000" stroke-width="1.0"/>
<line x1="389.70" y1="674.97" x2="389.70" y2="677.37" stroke="#000" stroke-width="1.0"/>
<line x1="389.70" y1="774.97" x2="389.70" y2="776.17" stroke="#000" stroke-width="1.0"/>
<line x1="400.85" y1="575.70" x2="400.85" y2="578.00" stroke="#000" stroke-width="1.0"/>
<line x1="400.85" y1="673.87" x2="400.85" y2="678.47" stroke="#000" stroke-width="1.0"/>
<line x1="400.85" y1="773.87" x2="400.85" y2="776.17" stroke="#000" stroke-width="1.0"/>
<text x="400.85" y="794.70" font-size="14.5" text-anchor="middle" fill="#000" >7900</text>
<line x1="412.00" y1="575.70" x2="412.00" y2="576.90" stroke="#000" stroke-width="1.0"/>
<line x1="412.00" y1="674.97" x2="412.00" y2="677.37" stroke="#000" stroke-width="1.0"/>
<line x1="412.00" y1="774.97" x2="412.00" y2="776.17" stroke="#000" stroke-width="1.0"/>
<line x1="50.45" y1="576.20" x2="57.85" y2="576.20" stroke="#000" stroke-width="1.15"/>
<line x1="415.75" y1="576.20" x2="423.15" y2="576.20" stroke="#000" stroke-width="1.15"/>
<text x="46.40" y="584.69" font-size="14.5" text-anchor="end" fill="#000" >6.5</text>
<line x1="50.45" y1="596.40" x2="57.85" y2="596.40" stroke="#000" stroke-width="1.15"/>
<line x1="415.75" y1="596.40" x2="423.15" y2="596.40" stroke="#000" stroke-width="1.15"/>
<text x="46.40" y="601.59" font-size="14.5" text-anchor="end" fill="#000" >6.0</text>
<line x1="50.45" y1="616.60" x2="57.85" y2="616.60" stroke="#000" stroke-width="1.15"/>
<line x1="415.75" y1="616.60" x2="423.15" y2="616.60" stroke="#000" stroke-width="1.15"/>
<text x="46.40" y="621.79" font-size="14.5" text-anchor="end" fill="#000" >5.5</text>
<line x1="50.45" y1="636.80" x2="57.85" y2="636.80" stroke="#000" stroke-width="1.15"/>
<line x1="415.75" y1="636.80" x2="423.15" y2="636.80" stroke="#000" stroke-width="1.15"/>
<text x="46.40" y="641.99" font-size="14.5" text-anchor="end" fill="#000" >5.0</text>
<line x1="50.45" y1="657.00" x2="57.85" y2="657.00" stroke="#000" stroke-width="1.15"/>
<line x1="415.75" y1="657.00" x2="423.15" y2="657.00" stroke="#000" stroke-width="1.15"/>
<text x="46.40" y="662.19" font-size="14.5" text-anchor="end" fill="#000" >4.5</text>
<line x1="50.45" y1="692.97" x2="57.85" y2="692.97" stroke="#000" stroke-width="1.15"/>
<line x1="415.75" y1="692.97" x2="423.15" y2="692.97" stroke="#000" stroke-width="1.15"/>
<text x="46.40" y="698.16" font-size="14.5" text-anchor="end" fill="#000" >750</text>
<line x1="50.45" y1="714.42" x2="57.85" y2="714.42" stroke="#000" stroke-width="1.15"/>
<line x1="415.75" y1="714.42" x2="423.15" y2="714.42" stroke="#000" stroke-width="1.15"/>
<text x="46.40" y="719.61" font-size="14.5" text-anchor="end" fill="#000" >700</text>
<line x1="50.45" y1="735.87" x2="57.85" y2="735.87" stroke="#000" stroke-width="1.15"/>
<line x1="415.75" y1="735.87" x2="423.15" y2="735.87" stroke="#000" stroke-width="1.15"/>
<text x="46.40" y="741.06" font-size="14.5" text-anchor="end" fill="#000" >650</text>
<line x1="50.45" y1="757.32" x2="57.85" y2="757.32" stroke="#000" stroke-width="1.15"/>
<line x1="415.75" y1="757.32" x2="423.15" y2="757.32" stroke="#000" stroke-width="1.15"/>
<text x="46.40" y="762.51" font-size="14.5" text-anchor="end" fill="#000" >600</text>
<text x="236.80" y="570.70" font-size="12.0" text-anchor="middle" fill="#000" >Mrk1048</text>
<text x="236.50" y="809.70" font-size="14.5" text-anchor="middle" fill="#000" >HJD − 2450000</text>
<text transform="translate(14.2,627.5) rotate(-90)" font-size="14.6" text-anchor="middle">f<tspan font-size="9.3" dy="3.9">λ</tspan></text>
<text transform="translate(10.5,726.5) rotate(-90)" font-size="14.6" text-anchor="middle">f<tspan font-size="9.3" dy="3.9">line</tspan></text>
<text x="84.60" y="598.60" font-size="13.2" text-anchor="start" fill="#000" >V</text>
<text x="72.60" y="703.60" font-size="14.2" text-anchor="start" fill="#000" >Hβ</text>
<text x="408.60" y="594.40" font-size="9.7" text-anchor="end" fill="#ff00ff" >KAIT</text>
<text x="408.60" y="604.60" font-size="9.7" text-anchor="end" fill="#ffa500" >LCOGT−2m</text>
<text x="408.60" y="614.80" font-size="9.7" text-anchor="end" fill="#32cd32" >Liverpool</text>
<path d="M81.7 91.6V93.2M83.9 98.2V99.8M85.7 101.8V103.4M90.7 96.6V98.2M92.1 102.1V103.6M92.9 103.5V105.1M94.3 98.5V100.1M95.0 97.8V99.4M95.7 93.5V95.1M96.9 90.2V91.8M98.6 83.1V84.6M103.1 78.1V79.6M108.6 86.1V87.6M112.1 72.8V74.4M119.3 80.6V82.2M120.0 82.1V83.6M121.1 83.9V85.5M122.4 83.5V85.1M123.6 86.4V87.9M124.3 84.9V86.5M125.3 86.4V87.9M126.1 83.2V84.8M130.0 68.9V70.5M131.0 65.6V67.2M132.1 66.8V68.4M133.6 63.5V65.1M134.6 60.9V62.5M135.7 58.9V60.5M137.1 61.4V62.9M138.3 53.8V55.4M149.6 29.9V31.5M150.0 29.9V31.5M167.9 65.6V67.2M180.0 44.6V46.2M181.4 45.6V47.2M182.4 47.5V49.1M187.9 41.8V43.4M190.0 47.1V48.6M191.4 48.9V50.5M193.6 52.8V54.4M204.3 54.6V56.2M210.0 59.9V61.5M213.6 51.8V53.4M215.0 52.8V54.4M216.4 54.9V56.5M222.9 74.9V76.5M229.6 64.2V65.8M230.0 66.4V67.9M231.4 50.6V52.2M237.1 66.1V67.6M237.9 73.5V75.1M239.6 72.8V74.4M242.4 74.9V76.5M244.6 74.2V75.8M240.3 72.8V74.4M242.1 74.6V76.2M245.0 73.8V75.4M246.0 75.6V77.2M249.3 74.6V76.2M254.3 53.7V56.3M253.6 53.5V55.1M255.0 54.9V56.5M257.1 44.9V46.5M258.1 43.5V45.1M259.3 42.4V43.9M260.0 41.4V42.9M263.6 36.6V38.2M265.4 40.6V42.2M272.9 31.8V33.4M277.9 36.4V37.9M287.4 31.8V33.4M290.0 34.9V36.5M291.1 37.1V38.6M294.0 43.2V44.8M296.4 44.6V46.2M297.9 46.6V48.2M310.0 73.5V75.1M310.7 76.1V80.4" stroke="#ff0000" stroke-width="1.55" fill="none"/>
<path d="M79.6 329.9V332.4M80.7 330.9V333.4M85.3 329.1V331.7M87.4 331.3V333.9M88.3 331.6V334.1M94.3 327.3V329.9M103.1 333.0V335.6M175.7 345.1V347.7M186.4 345.9V348.4M187.6 343.7V346.3M225.0 345.9V348.4M262.1 345.6V348.1M278.3 366.6V369.1M287.9 371.6V374.1M292.1 359.9V362.4M293.6 364.4V367.0M295.7 358.0V360.6M297.1 358.3V360.9M303.6 351.6V354.1M306.0 356.6V359.1M310.0 359.0V361.6M316.9 364.6V369.6M321.1 358.4V361.0M322.6 358.7V361.3" stroke="#ff0000" stroke-width="1.55" fill="none"/>
<path d="M149.0 31.1V33.1M149.0 31.1V33.1M151.9 33.3V35.3M155.3 28.0V30.0M163.9 50.7V52.7M165.7 58.3V60.3M166.7 63.3V65.3M172.9 56.9V58.9M173.6 54.7V56.7M175.0 51.9V53.9M175.4 47.6V49.6M187.1 42.1V44.1M191.0 47.3V49.3M193.9 53.6V55.6M193.1 56.1V58.1M199.0 54.7V56.7M200.0 57.6V59.6M203.6 56.9V58.9M204.3 51.9V53.9M207.9 50.4V52.4M216.4 59.0V61.0M218.6 58.3V60.3M225.0 71.1V73.1M227.1 67.6V69.6M235.0 57.6V59.6M236.7 64.0V66.0M250.3 72.1V77.1M277.9 38.6V41.4M280.7 29.0V31.9M284.3 28.1V32.4M287.1 27.9V30.1M296.4 37.9V40.7M299.3 43.5V45.6M301.9 40.7V43.6M306.4 62.9V65.7M309.6 68.9V72.5" stroke="#32cd32" stroke-width="1.55" fill="none"/>
<path d="M142.1 344.9V346.6M149.6 355.6V357.3M149.6 355.4V357.4M152.9 361.1V363.1M159.3 352.6V354.6M166.7 349.7V351.7M174.7 345.4V347.4M177.6 339.7V341.7M182.9 334.0V336.0M187.1 338.3V340.3M193.3 339.0V341.0M206.1 335.0V337.0M215.0 340.1V342.1M227.1 342.1V344.1M242.9 326.9V328.9M242.9 326.9V328.9M276.0 364.4V366.4M273.1 374.4V376.4M279.7 372.6V374.6M282.6 371.6V373.6M294.0 363.7V365.7M298.6 359.0V361.0" stroke="#32cd32" stroke-width="1.55" fill="none"/>
<path d="M89.0 647.3V648.7M109.6 635.7V637.1M114.4 633.1V634.5M117.0 632.7V634.1M120.4 630.7V632.1M121.0 631.9V633.3M125.0 620.7V622.1M129.6 621.9V623.3M134.0 621.7V623.1M137.6 619.9V621.3M141.6 621.3V622.7M145.6 618.3V619.7M148.4 621.3V622.7M151.6 617.9V619.3M156.0 615.9V617.3M159.6 612.3V613.7M169.6 619.9V621.3M179.6 621.7V623.1M187.6 627.9V629.3M191.0 624.7V626.1M194.0 621.9V623.3M209.6 601.9V603.3M247.6 588.7V590.1M252.0 594.3V595.7M255.0 592.7V594.1M259.0 590.7V592.1M264.0 593.3V594.7M267.6 594.7V596.1M271.0 594.7V596.1M276.4 606.3V607.7M279.6 607.3V608.7M303.0 607.9V609.3" stroke="#32cd32" stroke-width="1.6" fill="none"/>
<path d="M70.4 339.7V343.1M72.4 332.9V336.3M74.0 331.4V334.9M76.4 333.3V336.7M78.3 322.1V325.6M82.1 333.3V336.7M90.4 331.1V334.6M91.4 326.6V330.0M101.1 329.4V332.9M104.3 329.7V333.1M105.0 336.1V339.6M106.1 338.3V341.7M107.1 330.4V333.9M108.1 335.1V338.6M111.7 331.1V334.6M112.6 332.9V336.3M114.0 330.9V334.3M115.0 329.7V333.1M116.0 328.7V332.1M116.9 334.0V337.4M117.9 332.6V336.0M119.0 330.9V334.3M120.0 331.1V334.6M124.0 340.0V343.4M125.0 334.3V337.7M128.3 335.1V338.6M130.0 322.3V325.7M132.1 332.3V335.7M133.6 333.3V336.7M135.3 335.4V338.9M136.0 329.0V332.4M137.1 337.6V341.0M138.3 335.4V338.9M139.3 333.7V337.1M140.0 332.3V335.7M140.7 336.9V340.3M142.1 340.4V343.9M144.3 344.0V347.4M145.7 345.4V348.9M146.9 353.3V356.7M145.7 345.4V348.9M146.7 354.0V357.4M149.3 355.4V358.9M151.4 357.6V361.0M152.9 361.1V364.6M153.9 362.6V366.0M155.0 367.6V371.0M156.4 356.9V360.3M157.9 354.7V358.1M159.3 351.9V355.3M160.7 349.7V353.1M161.9 347.1V350.6M162.9 351.1V354.6M164.3 350.4V353.9M165.7 352.6V356.0M166.7 354.0V357.4M167.9 355.4V358.9M170.7 346.9V350.3M173.6 345.4V348.9M175.0 343.3V346.7M177.6 338.3V341.7M179.0 336.1V339.6M180.0 334.7V338.1M181.0 333.3V336.7M179.3 341.1V344.6M180.7 341.9V345.3M182.4 337.6V341.0M183.6 332.6V336.0M185.3 331.9V335.3M186.1 339.0V342.4M187.1 339.7V343.1M187.9 341.1V344.6M189.3 343.3V346.7M190.0 345.4V348.9M188.6 346.1V349.6M195.7 346.6V350.0M198.6 334.0V337.4M200.0 331.9V335.3M201.0 329.0V332.4M202.1 328.3V331.7M203.6 327.6V331.0M204.7 329.7V333.1M205.7 331.1V334.6M206.7 330.4V333.9M204.7 335.4V338.9M208.6 336.1V339.6M210.0 340.4V343.9M212.1 342.6V346.0M214.0 337.6V341.0M215.3 341.9V345.3M221.1 354.7V358.1M222.1 343.3V346.7M223.3 344.7V348.1M225.7 338.3V341.7M227.9 335.4V338.9M231.4 341.1V344.6M232.9 337.6V341.0M233.9 334.7V338.1M235.0 336.1V339.6M237.1 328.3V331.7M238.1 323.3V326.7M239.3 329.7V333.1M240.4 326.1V329.6M241.4 329.0V332.4M242.9 330.4V333.9M243.9 331.1V334.6M241.4 326.9V330.3M242.9 330.4V333.9M248.6 327.6V331.0M250.0 326.9V330.3M251.1 326.1V329.6M252.1 323.3V326.7M253.1 326.1V329.6M254.0 333.3V336.7M255.0 335.1V338.6M257.9 336.1V339.6M258.9 335.4V338.9M257.1 341.9V345.3M256.0 344.0V347.4M260.7 342.6V346.0M261.4 345.4V348.9M262.6 346.9V350.3M263.6 349.7V353.1M264.6 351.9V355.3M265.7 354.0V357.4M266.9 360.4V363.9M270.7 361.1V364.6M269.6 366.9V370.3M274.3 367.6V371.0M275.0 370.4V373.9M276.0 369.0V372.4M277.1 371.1V374.6M278.6 369.7V373.1M279.7 366.1V369.6M280.7 368.3V371.7M281.7 369.7V373.1M282.9 371.1V374.6M284.6 366.9V370.3M285.7 369.0V372.4M286.9 371.1V374.6M288.6 373.3V376.7" stroke="#ffa500" stroke-width="1.55" fill="none"/>
<path d="M73.0 670.8V672.0M74.0 670.0V671.2M80.0 658.8V660.0M87.0 651.0V652.2M88.4 650.4V651.6M90.0 648.0V649.2M91.6 649.4V650.6M93.0 650.0V651.2M89.4 644.0V645.2M91.0 643.4V644.6M93.0 642.4V643.6M94.4 640.8V642.0M95.6 639.4V640.6M97.0 638.0V639.2M98.4 637.0V638.2M100.0 636.4V637.6M101.6 636.8V638.0M103.0 639.4V640.6M106.0 638.4V639.6M107.6 637.4V638.6M109.0 638.8V640.0M110.0 640.4V641.6M111.0 641.4V642.6M112.4 638.4V639.6M114.0 640.0V641.2M117.6 630.4V631.6M119.0 630.0V631.2M121.0 632.4V633.6M123.0 626.0V627.2M125.0 625.4V626.6M127.0 624.4V625.6M129.0 622.4V623.6M131.0 622.0V623.2M132.0 625.4V626.6M133.6 626.4V627.6M135.0 624.4V625.6M137.0 623.4V624.6M138.0 620.8V622.0M140.0 612.0V613.2M141.0 617.4V618.6M142.0 618.4V619.6M143.0 622.4V623.6M144.0 623.4V624.6M145.0 619.4V620.6M146.0 624.4V625.6M147.0 618.8V620.0M148.0 620.0V621.2M149.0 621.4V622.6M150.0 624.4V625.6M151.0 619.4V620.6M152.0 620.8V622.0M153.0 618.4V619.6M154.0 617.4V618.6M155.0 616.4V617.6M156.0 615.4V616.6M157.0 614.4V615.6M158.0 613.4V614.6M159.6 612.0V613.2M161.0 611.8V613.0M162.4 611.6V612.8M164.0 612.0V613.2M165.6 613.4V614.6M167.0 615.0V616.2M168.4 616.4V617.6M169.6 616.8V618.0M175.6 622.4V623.6M177.0 620.8V622.0M179.0 623.4V624.6M181.0 625.4V626.6M181.0 626.0V627.2M182.4 626.8V628.0M185.6 624.0V625.2M186.4 624.8V626.0M188.0 626.8V628.0M191.0 624.4V625.6M192.4 623.4V624.6M194.4 622.0V623.2M196.4 620.8V622.0M199.0 620.0V621.2M197.6 616.0V617.2M199.6 613.4V614.6M201.0 610.4V611.6M202.4 609.4V610.6M204.0 608.0V609.2M205.6 605.4V606.6M207.0 604.0V605.2M208.0 605.4V606.6M209.6 602.4V603.6M211.0 601.4V602.6M212.0 600.8V602.0M213.0 603.4V604.6M216.4 604.8V606.0M218.0 606.0V607.2M219.6 606.8V608.0M221.0 607.4V608.6M222.4 606.4V607.6M224.0 605.4V606.6M225.6 602.4V603.6M227.0 601.4V602.6M228.0 602.4V603.6M231.0 594.4V595.6M232.4 595.4V596.6M234.0 596.8V598.0M235.6 593.4V594.6M237.0 595.4V596.6M238.4 594.0V595.2M240.0 594.4V595.6M242.0 591.4V592.6M244.0 586.4V587.6M245.0 585.4V586.6M246.4 586.0V587.2M248.0 586.8V588.0M249.6 585.4V586.6M251.0 587.4V588.6M252.4 586.4V587.6M254.0 587.4V588.6M255.6 588.0V589.2M259.0 593.4V594.6M261.0 590.8V592.0M262.4 595.4V596.6M264.0 592.4V593.6M265.6 592.0V593.2M267.0 596.4V597.6M268.4 593.4V594.6M270.0 596.0V597.2M272.4 594.4V595.6M274.0 601.4V602.6M275.6 598.8V600.0M277.0 606.0V607.2M278.4 605.4V606.6M280.0 606.8V608.0M281.6 604.0V605.2M283.0 607.4V608.6M284.4 606.4V607.6M286.0 599.4V600.6M287.0 604.4V605.6M288.4 604.8V606.0M289.6 605.4V606.6M291.0 606.0V607.2M292.4 606.8V608.0M294.0 607.4V608.6M295.6 608.4V609.6M297.0 606.8V608.0M298.4 607.4V608.6M300.0 605.4V606.6M301.0 604.4V605.6M302.4 608.0V609.2M304.0 608.8V610.0M305.6 609.4V610.6M308.0 610.8V612.0M309.6 615.4V616.6M310.4 614.4V615.6" stroke="#ffa500" stroke-width="1.25" fill="none"/>
<path d="M69.0 94.9V99.9M78.1 89.4V92.9M81.0 91.1V94.6M88.6 89.6V94.6M89.7 92.1V96.4M113.9 70.1V73.6M115.3 70.8V74.4M125.0 74.9V79.9M162.1 48.6V52.9M163.1 51.1V56.1M167.9 66.1V70.4M169.0 67.1V71.4M170.4 61.1V64.6M171.1 61.4V64.9M175.4 52.1V56.4M176.4 48.6V54.3M177.6 44.2V50.6M178.9 45.7V50.0M183.1 54.3V58.6M185.4 47.5V52.5M195.0 59.3V62.1M196.7 61.9V66.1M199.3 57.5V61.1M201.0 50.7V56.4M202.6 41.5V49.4M205.0 48.9V53.9M206.7 53.6V57.9M208.6 50.7V55.0M211.4 55.0V59.3M213.3 53.9V58.9M214.6 54.3V58.6M219.3 61.8V65.4M220.7 63.9V67.5M222.1 65.4V68.9M225.0 69.3V73.6M226.0 58.9V63.9M227.1 55.0V60.7M227.9 62.9V70.0M230.4 44.2V50.6M233.3 50.4V55.4M234.3 52.5V57.5M244.3 67.6V71.9M244.3 67.1V71.4M253.6 43.3V50.4M254.7 48.6V54.3M256.0 47.9V53.6M258.9 37.2V42.2M262.6 27.2V33.6M274.7 33.6V37.9M278.9 30.8V35.8M292.9 49.7V54.0M296.0 56.7V61.0M297.6 57.9V63.6M300.4 55.0V59.3M304.3 53.9V58.9M305.7 54.6V62.5M307.6 71.8V79.6" stroke="#a020f0" stroke-width="1.5" fill="none"/>
<path d="M95.4 319.2V324.2M97.1 320.7V325.0M148.1 348.6V352.9M148.9 357.5V362.5M147.9 348.6V352.9M149.0 357.5V362.5M150.7 357.1V361.4M154.3 362.9V368.6M156.1 355.8V360.8M157.9 352.9V357.1M171.1 343.9V348.9M172.9 347.1V351.4M181.9 326.4V330.7M185.0 334.3V338.6M188.6 333.9V338.9M193.6 331.1V336.1M195.0 333.2V339.6M196.4 337.1V341.4M197.9 331.1V334.6M202.9 331.1V336.1M204.7 330.0V334.3M210.0 340.7V345.0M212.4 341.9V346.1M215.0 340.0V344.3M216.4 350.0V355.7M217.4 350.0V354.3M224.7 341.1V346.1M252.1 342.1V347.1M269.3 372.5V377.5M292.1 353.2V358.2M293.6 353.5V358.5M296.9 353.2V358.2M301.1 354.7V361.9M302.9 347.1V352.9M305.0 355.7V362.9M307.9 355.0V359.3M309.0 359.6V367.5" stroke="#a020f0" stroke-width="1.5" fill="none"/>
<path d="M119.0 83.9V87.5M127.9 75.4V78.3M140.0 49.0V51.6M143.7 35.1V37.2M154.7 31.7V34.6M184.3 47.1V50.0M195.7 60.3V63.1M206.4 48.1V52.4M225.7 75.7V78.6M230.3 57.9V60.7M170.0 61.1V63.2M168.6 66.8V69.6M170.4 66.2V68.0M175.7 50.9V54.8M194.3 59.6V61.8M196.4 59.5V61.3" stroke="#4b0082" stroke-width="1.5" fill="none"/>
<path d="M124.0 332.4V335.3M127.1 330.7V335.0M128.1 328.2V331.8M154.7 365.7V368.6M156.1 361.8V363.9M171.9 354.6V356.8M182.9 344.6V346.8M183.9 340.7V343.6M185.3 342.1V345.0M187.6 340.7V343.6M195.3 340.7V343.6M202.6 323.6V327.2M215.4 347.2V349.4M221.4 353.1V356.0" stroke="#4b0082" stroke-width="1.5" fill="none"/>
<path d="M310.3 74.3V78.6" stroke="#ff00ff" stroke-width="1.4" fill="none"/>
<path d="M323.9 360.6V364.2" stroke="#ff00ff" stroke-width="1.4" fill="none"/>
<path d="M311.6 612.8V614.4" stroke="#ff00ff" stroke-width="1.6" fill="none"/>
<path d="M100.1 188.9V202.6M105.8 194.1V207.1M109.4 192.7V206.0M114.9 180.4V194.1M117.9 185.0V198.5M119.7 182.0V195.7M130.0 188.2V201.4M132.5 179.7V193.4M135.5 185.4V198.7M139.1 183.6V197.3M142.8 191.1V204.4M145.5 167.1V181.3M146.7 166.0V179.7M152.9 155.3V169.9M154.0 152.3V167.1M155.1 149.3V164.4M158.6 156.4V171.3M162.2 156.4V171.3M163.8 169.4V183.6M170.2 184.3V198.0M173.0 159.4V174.0M183.0 143.6V159.1M186.9 135.6V151.6M195.4 120.5V137.9M205.9 147.7V162.4M208.2 137.8V153.2M218.1 146.0V161.5M221.7 161.5V175.6M225.6 146.7V161.8M232.9 155.9V170.7M233.8 145.0V160.1M237.5 163.4V177.6M243.7 147.7V163.1M246.7 140.4V156.5M249.6 138.4V154.9M262.4 173.0V187.1M264.4 159.2V173.3M298.6 169.7V183.8M300.2 141.7V156.5M301.9 144.4V160.1M330.8 182.8V196.3" stroke="#6c8199" stroke-width="1.65" fill="none"/>
<path d="M87.4 449.4V483.3M97.2 451.3V484.4M100.4 432.5V468.2M102.2 457.7V490.6M113.2 432.3V467.7M116.4 455.1V488.3M123.3 448.3V482.1M127.1 437.1V471.6M130.1 425.0V461.3M131.3 439.6V474.6M137.9 413.3V450.6M139.3 439.1V473.9M144.1 462.5V494.7M150.0 443.7V478.0M156.9 446.2V480.5M160.1 439.4V474.1M170.8 441.0V475.5M174.9 463.6V494.7M183.8 461.5V494.7M195.5 432.1V467.3M197.8 441.7V476.2M208.5 442.6V476.9M212.6 444.9V478.7M216.5 435.7V470.5M224.3 440.7V475.3M229.3 432.3V466.6M236.1 457.3V490.2M239.4 420.2V456.6M242.4 437.6V472.7M256.2 427.1V463.2M258.2 414.6V452.4M295.0 438.6V473.7M296.9 425.4V461.6M298.9 394.9V432.7" stroke="#6c8199" stroke-width="1.65" fill="none"/>
<path d="M76.2 749.2V751.8M84.2 754.1V756.7M85.4 762.4V765.0M92.8 738.7V741.3M94.0 756.8V759.4M95.2 732.3V734.9M99.8 721.5V724.1M104.1 723.1V725.7M106.6 761.5V764.1M114.3 743.0V745.6M117.3 730.1V732.7M129.9 724.3V726.9M134.2 729.2V731.8M144.3 732.0V734.6M157.9 699.7V702.3M160.0 714.5V717.1M172.0 708.6V711.2M176.6 705.6V708.2M181.2 700.6V703.2M190.1 732.3V734.9M203.3 716.0V718.6M207.0 751.9V754.5M225.3 719.0V721.6M227.9 699.9V702.5M237.8 709.1V711.7M269.0 722.6V725.2M271.3 690.7V693.3" stroke="#5b7192" stroke-width="1.6" fill="none"/>
<clipPath id="c74"><rect x="487.7" y="74.57" width="205.7" height="143.88"/></clipPath>
<g clip-path="url(#c74)">
<path d="M546.32 218.45V215.60H548.38V211.79H550.44V212.74H552.50V210.84H554.55V207.98H556.61V212.74H558.67V198.47H560.72V187.05H562.78V164.21H564.84V145.18H566.89V115.11H568.95V127.10H571.01V94.37H573.07V115.69H575.12V81.43H577.18V115.69H579.24V150.89H581.29V166.12H583.35V147.09H585.41V136.05H587.46V136.05H589.52V156.60H591.58V136.05H593.64V143.28H595.69V149.94H597.75V167.07H599.81V162.31H601.86V191.81H603.92V156.60H605.98V187.05H608.03V179.06H610.09V199.42H612.15V202.27H614.21V204.18H616.26V211.79H618.32V213.69H620.38V217.50H622.43V215.60H624.49V218.45H626.55V218.45H628.60V213.69H630.66V211.22H632.72V214.64H634.78V213.12H636.83V215.60H638.89V216.55H640.95V217.50H643.00V218.45H645.06V218.45Z" fill="#f0e68c" stroke="#bdb362" stroke-width="0.7" stroke-linejoin="miter"/>
<line x1="581.50" y1="74.57" x2="581.50" y2="218.45" stroke="#dfe2ea" stroke-width="1.2"/>
<polyline points="512.4,217.9 513.5,213.8 514.6,209.6 515.6,205.7 516.7,202.2 517.7,199.1 518.8,195.8 519.8,191.3 520.9,187.8 521.9,184.1 522.9,181.1 524.0,176.8 525.0,173.4 526.1,170.6 527.1,167.1 528.2,164.8 529.2,161.7 530.3,159.8 531.3,157.4 532.4,156.0 533.4,153.2 534.5,151.4 535.5,150.8 536.6,148.8 537.6,146.0 538.7,145.5 539.7,143.1 540.8,142.0 541.8,140.1 542.9,138.7 543.9,138.0 544.9,136.6 546.0,135.7 547.0,135.5 548.1,135.2 549.1,133.6 550.2,133.2 551.2,132.1 552.3,131.2 553.3,130.8 554.4,130.0 555.4,129.3 556.5,129.5 557.5,130.1 558.6,130.7 559.6,131.3 560.7,133.3 561.7,133.5 562.8,134.5 563.8,133.7 564.9,134.2 565.9,135.4 566.9,135.3 568.0,135.2 569.0,134.8 570.1,133.4 571.1,133.0 572.2,132.2 573.2,131.8 574.3,131.4 575.3,131.4 576.4,130.5 577.4,130.7 578.5,130.4 579.5,130.7 580.6,130.2 581.6,130.5 582.7,129.3 583.7,129.9 584.8,129.4 585.8,130.1 586.9,130.1 587.9,131.2 588.9,130.9 590.0,131.4 591.0,132.8 592.1,133.9 593.1,134.5 594.2,134.4 595.2,134.3 596.3,134.0 597.3,134.8 598.4,135.7 599.4,137.8 600.5,138.9 601.5,139.9 602.6,140.9 603.6,141.6 604.7,143.7 605.7,144.8 606.8,145.7 607.8,145.4 608.8,145.5 609.9,147.0 610.9,147.8 612.0,148.6 613.0,149.8 614.1,149.9 615.1,151.1 616.2,151.4 617.2,152.0 618.3,152.5 619.3,153.6 620.4,154.0 621.4,154.3 622.5,154.5 623.5,153.9 624.6,153.2 625.6,154.5 626.7,154.8 627.7,156.2 628.8,156.6 629.8,156.0 630.8,156.2 631.9,156.6 632.9,157.9 634.0,158.3 635.0,158.8 636.1,159.9 637.1,161.6 638.2,163.3 639.2,163.9 640.3,165.7 641.8,170.2 642.9,169.7 643.9,168.0 645.0,168.3 646.0,167.1 647.1,167.0 648.1,166.9 649.2,168.7 650.2,169.9 651.3,170.4 652.3,172.4 653.4,175.1 654.4,176.7 655.5,179.0 656.5,181.0 657.6,183.6 658.6,186.1 659.7,188.0 660.7,189.4 661.8,192.0 662.8,193.5 663.8,195.8 664.9,198.2 665.9,201.6 667.0,203.7 668.0,206.5 669.1,208.9 670.1,211.4 671.2,212.7 672.2,215.5 673.3,217.1" fill="none" stroke="#708090" stroke-width="0.9"/>
</g>
<rect x="487.70" y="74.57" width="205.70" height="143.88" fill="none" stroke="#000" stroke-width="1.2"/>
<line x1="487.70" y1="74.57" x2="487.70" y2="77.87" stroke="#000" stroke-width="1.1"/>
<line x1="487.70" y1="218.45" x2="487.70" y2="221.95" stroke="#000" stroke-width="1.1"/>
<text x="487.70" y="238.75" font-size="13.4" text-anchor="middle" fill="#000" >−20</text>
<line x1="528.84" y1="74.57" x2="528.84" y2="77.87" stroke="#000" stroke-width="1.1"/>
<line x1="528.84" y1="218.45" x2="528.84" y2="221.95" stroke="#000" stroke-width="1.1"/>
<text x="528.84" y="238.75" font-size="13.4" text-anchor="middle" fill="#000" >0</text>
<line x1="569.98" y1="74.57" x2="569.98" y2="77.87" stroke="#000" stroke-width="1.1"/>
<line x1="569.98" y1="218.45" x2="569.98" y2="221.95" stroke="#000" stroke-width="1.1"/>
<text x="569.98" y="238.75" font-size="13.4" text-anchor="middle" fill="#000" >20</text>
<line x1="611.12" y1="74.57" x2="611.12" y2="77.87" stroke="#000" stroke-width="1.1"/>
<line x1="611.12" y1="218.45" x2="611.12" y2="221.95" stroke="#000" stroke-width="1.1"/>
<text x="611.12" y="238.75" font-size="13.4" text-anchor="middle" fill="#000" >40</text>
<line x1="652.26" y1="74.57" x2="652.26" y2="77.87" stroke="#000" stroke-width="1.1"/>
<line x1="652.26" y1="218.45" x2="652.26" y2="221.95" stroke="#000" stroke-width="1.1"/>
<text x="652.26" y="238.75" font-size="13.4" text-anchor="middle" fill="#000" >60</text>
<line x1="693.40" y1="74.57" x2="693.40" y2="77.87" stroke="#000" stroke-width="1.1"/>
<line x1="693.40" y1="218.45" x2="693.40" y2="221.95" stroke="#000" stroke-width="1.1"/>
<text x="693.40" y="238.75" font-size="13.4" text-anchor="middle" fill="#000" >80</text>
<line x1="487.70" y1="81.43" x2="491.70" y2="81.43" stroke="#000" stroke-width="1.1"/>
<line x1="689.40" y1="81.43" x2="693.40" y2="81.43" stroke="#000" stroke-width="1.1"/>
<text x="483.90" y="86.19" font-size="13.3" text-anchor="end" fill="#000" >1.00</text>
<line x1="487.70" y1="108.83" x2="491.70" y2="108.83" stroke="#000" stroke-width="1.1"/>
<line x1="689.40" y1="108.83" x2="693.40" y2="108.83" stroke="#000" stroke-width="1.1"/>
<text x="483.90" y="113.60" font-size="13.3" text-anchor="end" fill="#000" >0.80</text>
<line x1="487.70" y1="136.24" x2="491.70" y2="136.24" stroke="#000" stroke-width="1.1"/>
<line x1="689.40" y1="136.24" x2="693.40" y2="136.24" stroke="#000" stroke-width="1.1"/>
<text x="483.90" y="141.00" font-size="13.3" text-anchor="end" fill="#000" >0.60</text>
<line x1="487.70" y1="163.64" x2="491.70" y2="163.64" stroke="#000" stroke-width="1.1"/>
<line x1="689.40" y1="163.64" x2="693.40" y2="163.64" stroke="#000" stroke-width="1.1"/>
<text x="483.90" y="168.40" font-size="13.3" text-anchor="end" fill="#000" >0.40</text>
<line x1="487.70" y1="191.05" x2="491.70" y2="191.05" stroke="#000" stroke-width="1.1"/>
<line x1="689.40" y1="191.05" x2="693.40" y2="191.05" stroke="#000" stroke-width="1.1"/>
<text x="483.90" y="195.81" font-size="13.3" text-anchor="end" fill="#000" >0.20</text>
<line x1="487.70" y1="218.45" x2="491.70" y2="218.45" stroke="#000" stroke-width="1.1"/>
<line x1="689.40" y1="218.45" x2="693.40" y2="218.45" stroke="#000" stroke-width="1.1"/>
<text x="483.90" y="218.21" font-size="13.3" text-anchor="end" fill="#000" >0.00</text>
<text transform="translate(447.9,147.1) rotate(-90)" font-size="13.3" text-anchor="middle">CCF / CCCD</text>
<text x="590.25" y="253.15" font-size="13.5" text-anchor="middle" fill="#000" >Lag (days)</text>
<clipPath id="c356"><rect x="487.7" y="356.0" width="205.7" height="143.7"/></clipPath>
<g clip-path="url(#c356)">
<path d="M503.13 499.70V494.77H505.18V497.15H507.24V492.38H509.30V484.42H511.36V456.26H513.41V492.38H515.47V471.70H517.53V471.70H519.58V474.08H521.64V466.60H523.70V478.86H525.75V469.31H527.81V494.77H529.87V484.42H531.93V456.26H533.98V474.40H536.04V486.81H538.10V471.70H540.15V477.26H542.21V471.70H544.27V479.65H546.32V489.20H548.38V497.15H550.44V489.68H552.50V499.70H554.55V492.38H556.61V484.42H558.67V486.81H560.72V440.99H562.78V489.68H564.84V458.97H566.89V471.22H568.95V453.87H571.01V471.70H573.07V494.77H575.12V492.38H577.18V494.45H579.24V487.13H581.29V466.60H583.35V487.13H585.41V492.38H587.46V489.68H589.52V474.40H591.58V473.71H593.64V456.62H595.69V482.06H597.75V466.84H599.81V478.35H601.86V474.26H603.92V486.70H605.98V466.84H608.03V483.92H610.09V482.06H612.15V466.84H614.21V492.27H616.26V483.92H618.32V477.05H620.38V482.06H622.43V463.87H624.49V451.43H626.55V471.85H628.60V483.92H630.66V424.13H632.72V362.86H634.78V441.21H636.83V458.85H638.89V431.37H640.95V441.21H643.00V400.92H645.06V441.21H647.12V365.09H649.17V374.37H651.23V362.86H653.29V441.21H655.35V482.06H657.40V489.49H659.46V489.49H661.52V484.85H663.57V492.27H665.63V492.27H667.69V496.91H669.74V484.85H671.80V482.06H673.86V489.49H675.92V489.49H677.97V489.49H680.03V489.49H682.09V489.49H684.14V484.85H686.20V482.06H688.26V495.06H690.31V497.84H692.37V497.84H694.43V497.84H696.49V499.70H698.54V499.70Z" fill="#f0e68c" stroke="#bdb362" stroke-width="0.7" stroke-linejoin="miter"/>
<line x1="627.16" y1="356.00" x2="627.16" y2="499.70" stroke="#dfe2ea" stroke-width="1.2"/>
<polyline points="622.5,499.4 623.4,496.6 625.3,498.3 626.5,491.9 627.1,499.3 628.0,498.5 629.9,487.1 631.7,479.8 633.6,475.6 635.5,480.9 637.3,487.2 638.6,492.8 640.1,490.9 641.9,487.2 643.8,484.4 645.7,480.2 647.5,477.2 649.0,477.8 650.3,480.1 652.2,478.0 653.1,483.7 654.9,488.2 656.8,493.5 658.3,499.4" fill="none" stroke="#708090" stroke-width="0.9"/>
</g>
<rect x="487.70" y="356.00" width="205.70" height="143.70" fill="none" stroke="#000" stroke-width="1.2"/>
<line x1="487.70" y1="356.00" x2="487.70" y2="359.30" stroke="#000" stroke-width="1.1"/>
<line x1="487.70" y1="499.70" x2="487.70" y2="503.20" stroke="#000" stroke-width="1.1"/>
<text x="487.70" y="520.00" font-size="13.4" text-anchor="middle" fill="#000" >−20</text>
<line x1="528.84" y1="356.00" x2="528.84" y2="359.30" stroke="#000" stroke-width="1.1"/>
<line x1="528.84" y1="499.70" x2="528.84" y2="503.20" stroke="#000" stroke-width="1.1"/>
<text x="528.84" y="520.00" font-size="13.4" text-anchor="middle" fill="#000" >0</text>
<line x1="569.98" y1="356.00" x2="569.98" y2="359.30" stroke="#000" stroke-width="1.1"/>
<line x1="569.98" y1="499.70" x2="569.98" y2="503.20" stroke="#000" stroke-width="1.1"/>
<text x="569.98" y="520.00" font-size="13.4" text-anchor="middle" fill="#000" >20</text>
<line x1="611.12" y1="356.00" x2="611.12" y2="359.30" stroke="#000" stroke-width="1.1"/>
<line x1="611.12" y1="499.70" x2="611.12" y2="503.20" stroke="#000" stroke-width="1.1"/>
<text x="611.12" y="520.00" font-size="13.4" text-anchor="middle" fill="#000" >40</text>
<line x1="652.26" y1="356.00" x2="652.26" y2="359.30" stroke="#000" stroke-width="1.1"/>
<line x1="652.26" y1="499.70" x2="652.26" y2="503.20" stroke="#000" stroke-width="1.1"/>
<text x="652.26" y="520.00" font-size="13.4" text-anchor="middle" fill="#000" >60</text>
<line x1="693.40" y1="356.00" x2="693.40" y2="359.30" stroke="#000" stroke-width="1.1"/>
<line x1="693.40" y1="499.70" x2="693.40" y2="503.20" stroke="#000" stroke-width="1.1"/>
<text x="693.40" y="520.00" font-size="13.4" text-anchor="middle" fill="#000" >80</text>
<line x1="487.70" y1="362.86" x2="491.70" y2="362.86" stroke="#000" stroke-width="1.1"/>
<line x1="689.40" y1="362.86" x2="693.40" y2="362.86" stroke="#000" stroke-width="1.1"/>
<text x="483.90" y="367.62" font-size="13.3" text-anchor="end" fill="#000" >1.00</text>
<line x1="487.70" y1="390.23" x2="491.70" y2="390.23" stroke="#000" stroke-width="1.1"/>
<line x1="689.40" y1="390.23" x2="693.40" y2="390.23" stroke="#000" stroke-width="1.1"/>
<text x="483.90" y="394.99" font-size="13.3" text-anchor="end" fill="#000" >0.80</text>
<line x1="487.70" y1="417.60" x2="491.70" y2="417.60" stroke="#000" stroke-width="1.1"/>
<line x1="689.40" y1="417.60" x2="693.40" y2="417.60" stroke="#000" stroke-width="1.1"/>
<text x="483.90" y="422.36" font-size="13.3" text-anchor="end" fill="#000" >0.60</text>
<line x1="487.70" y1="444.96" x2="491.70" y2="444.96" stroke="#000" stroke-width="1.1"/>
<line x1="689.40" y1="444.96" x2="693.40" y2="444.96" stroke="#000" stroke-width="1.1"/>
<text x="483.90" y="449.73" font-size="13.3" text-anchor="end" fill="#000" >0.40</text>
<line x1="487.70" y1="472.33" x2="491.70" y2="472.33" stroke="#000" stroke-width="1.1"/>
<line x1="689.40" y1="472.33" x2="693.40" y2="472.33" stroke="#000" stroke-width="1.1"/>
<text x="483.90" y="477.09" font-size="13.3" text-anchor="end" fill="#000" >0.20</text>
<line x1="487.70" y1="499.70" x2="491.70" y2="499.70" stroke="#000" stroke-width="1.1"/>
<line x1="689.40" y1="499.70" x2="693.40" y2="499.70" stroke="#000" stroke-width="1.1"/>
<text x="483.90" y="499.46" font-size="13.3" text-anchor="end" fill="#000" >0.00</text>
<text transform="translate(447.9,428.5) rotate(-90)" font-size="13.3" text-anchor="middle">CCF / CCCD</text>
<text x="590.25" y="534.40" font-size="13.5" text-anchor="middle" fill="#000" >Lag (days)</text>
<clipPath id="c637"><rect x="487.7" y="637.6" width="205.7" height="143.60000000000002"/></clipPath>
<g clip-path="url(#c637)">
<path d="M515.47 781.20V780.65H517.53V779.29H519.58V780.65H521.64V779.70H523.70V779.29H525.75V778.88H527.81V776.55H529.87V778.47H531.93V768.35H533.98V776.28H536.04V777.92H538.10V776.28H540.15V775.18H542.21V775.59H544.27V777.37H546.32V778.19H548.38V779.49H550.44V779.49H552.50V779.83H554.55V781.20H556.61V774.77H558.67V774.77H560.72V776.96H562.78V766.16H564.84V759.73H566.89V762.33H568.95V772.18H571.01V770.06H573.07V767.94H575.12V762.33H577.18V753.31H579.24V759.73H581.29V748.66H583.35V735.12H585.41V730.61H587.46V718.03H589.52V725.26H591.58V712.83H593.64V726.30H595.69V706.20H597.75V731.48H599.81V705.58H601.86V670.36H603.92V644.05H605.98V678.64H608.03V685.90H610.09V713.87H612.15V721.12H614.21V742.87H616.26V719.05H618.32V723.19H620.38V690.04H622.43V684.86H624.49V695.84H626.55V695.84H628.60V741.84H630.66V745.98H632.72V742.87H634.78V753.85H636.83V768.35H638.89V760.07H640.95V765.66H643.00V772.91H645.06V757.79H647.12V766.28H649.17V780.79H651.23V779.13H653.29V779.13H655.35V781.20H657.40V781.20Z" fill="#f0e68c" stroke="#bdb362" stroke-width="0.7" stroke-linejoin="miter"/>
<line x1="605.77" y1="637.60" x2="605.77" y2="781.20" stroke="#dfe2ea" stroke-width="1.2"/>
<polyline points="487.8,723.7 489.7,720.7 491.6,721.6 493.5,720.5 495.4,720.2 497.3,720.7 499.2,722.3 501.1,722.9 502.0,722.6 503.9,727.7 505.4,731.5 506.8,726.7 508.1,724.9 509.2,726.9 510.6,725.7 512.5,729.6 514.3,733.0 516.2,730.6 517.6,731.7 519.1,732.1 521.0,725.9 522.9,723.0 524.8,721.0 526.7,720.6 528.5,720.4 530.4,717.3 530.0,717.9 531.1,717.4 532.3,717.1 533.4,715.5 534.6,714.6 535.7,712.8 536.9,712.1 538.0,712.3 539.1,711.1 540.3,712.2 541.4,712.1 542.6,713.2 543.7,714.5 544.9,713.9 546.0,714.8 547.1,714.5 548.3,713.4 549.4,712.2 550.6,712.1 551.7,712.3 552.9,712.9 554.0,711.6 555.1,710.8 556.3,710.4 557.4,711.3 558.6,711.4 559.7,711.2 560.9,709.9 562.0,709.8 563.1,709.6 564.3,709.8 565.4,709.4 566.6,710.1 567.7,709.8 568.9,708.6 570.0,707.9 571.1,707.0 572.3,706.3 573.4,704.8 574.6,701.8 575.7,701.1 576.9,699.7 578.0,700.4 579.1,700.8 580.3,700.1 581.4,698.8 582.6,698.4 583.7,697.1 584.9,697.4 586.0,698.3 587.1,698.3 588.3,698.1 589.4,697.8 590.6,698.3 591.7,699.6 592.9,699.5 594.0,698.3 595.1,698.5 596.3,698.4 597.4,698.0 598.6,698.9 599.7,700.9 600.9,701.5 602.0,703.0 603.1,703.5 604.3,704.5 605.4,705.5 606.6,705.7 607.7,704.5 608.9,704.3 610.0,704.3 611.1,703.6 612.3,704.3 613.4,705.6 614.6,703.6 615.7,703.0 616.9,701.6 618.0,700.9 619.1,700.0 620.3,699.9 621.4,698.4 622.6,696.7 623.7,697.4 624.9,697.3 626.0,699.0 627.1,699.8 628.3,701.0 629.4,703.4 630.6,704.9 631.7,706.3 632.9,706.7 634.0,707.8 635.1,709.9 636.3,710.8 637.4,709.8 638.6,708.6 639.7,708.8 640.9,709.9 642.0,710.9 643.1,712.3 644.3,711.3 645.4,710.1 646.6,710.8 647.7,710.9 649.5,707.5 651.1,713.4 652.3,715.8 653.4,716.6 654.6,719.0 655.7,720.5 656.9,723.2 658.0,726.2 659.1,729.7 660.3,733.1 661.4,737.3 662.6,743.4 663.7,746.4 664.9,750.0 666.0,752.8 667.1,757.1 668.3,761.9 669.4,766.0 670.6,769.5 671.7,773.9 672.9,775.2 674.0,776.0 675.1,776.2 676.3,777.5 677.4,778.1 678.6,779.8 679.7,780.1 680.9,781.4 682.0,781.5 683.1,781.6 684.3,781.3 685.4,781.0 686.6,781.3 687.7,780.8 688.9,780.7 690.0,779.7" fill="none" stroke="#708090" stroke-width="0.9"/>
</g>
<rect x="487.70" y="637.60" width="205.70" height="143.60" fill="none" stroke="#000" stroke-width="1.2"/>
<line x1="508.27" y1="637.60" x2="508.27" y2="640.90" stroke="#000" stroke-width="1.1"/>
<line x1="508.27" y1="781.20" x2="508.27" y2="784.70" stroke="#000" stroke-width="1.1"/>
<text x="508.27" y="801.50" font-size="13.4" text-anchor="middle" fill="#000" >−40</text>
<line x1="549.41" y1="637.60" x2="549.41" y2="640.90" stroke="#000" stroke-width="1.1"/>
<line x1="549.41" y1="781.20" x2="549.41" y2="784.70" stroke="#000" stroke-width="1.1"/>
<text x="549.41" y="801.50" font-size="13.4" text-anchor="middle" fill="#000" >−20</text>
<line x1="590.55" y1="637.60" x2="590.55" y2="640.90" stroke="#000" stroke-width="1.1"/>
<line x1="590.55" y1="781.20" x2="590.55" y2="784.70" stroke="#000" stroke-width="1.1"/>
<text x="590.55" y="801.50" font-size="13.4" text-anchor="middle" fill="#000" >0</text>
<line x1="631.69" y1="637.60" x2="631.69" y2="640.90" stroke="#000" stroke-width="1.1"/>
<line x1="631.69" y1="781.20" x2="631.69" y2="784.70" stroke="#000" stroke-width="1.1"/>
<text x="631.69" y="801.50" font-size="13.4" text-anchor="middle" fill="#000" >20</text>
<line x1="672.83" y1="637.60" x2="672.83" y2="640.90" stroke="#000" stroke-width="1.1"/>
<line x1="672.83" y1="781.20" x2="672.83" y2="784.70" stroke="#000" stroke-width="1.1"/>
<text x="672.83" y="801.50" font-size="13.4" text-anchor="middle" fill="#000" >40</text>
<line x1="487.70" y1="644.46" x2="491.70" y2="644.46" stroke="#000" stroke-width="1.1"/>
<line x1="689.40" y1="644.46" x2="693.40" y2="644.46" stroke="#000" stroke-width="1.1"/>
<text x="483.90" y="649.22" font-size="13.3" text-anchor="end" fill="#000" >1.00</text>
<line x1="487.70" y1="671.81" x2="491.70" y2="671.81" stroke="#000" stroke-width="1.1"/>
<line x1="689.40" y1="671.81" x2="693.40" y2="671.81" stroke="#000" stroke-width="1.1"/>
<text x="483.90" y="676.57" font-size="13.3" text-anchor="end" fill="#000" >0.80</text>
<line x1="487.70" y1="699.16" x2="491.70" y2="699.16" stroke="#000" stroke-width="1.1"/>
<line x1="689.40" y1="699.16" x2="693.40" y2="699.16" stroke="#000" stroke-width="1.1"/>
<text x="483.90" y="703.92" font-size="13.3" text-anchor="end" fill="#000" >0.60</text>
<line x1="487.70" y1="726.50" x2="491.70" y2="726.50" stroke="#000" stroke-width="1.1"/>
<line x1="689.40" y1="726.50" x2="693.40" y2="726.50" stroke="#000" stroke-width="1.1"/>
<text x="483.90" y="731.27" font-size="13.3" text-anchor="end" fill="#000" >0.40</text>
<line x1="487.70" y1="753.85" x2="491.70" y2="753.85" stroke="#000" stroke-width="1.1"/>
<line x1="689.40" y1="753.85" x2="693.40" y2="753.85" stroke="#000" stroke-width="1.1"/>
<text x="483.90" y="758.61" font-size="13.3" text-anchor="end" fill="#000" >0.20</text>
<line x1="487.70" y1="781.20" x2="491.70" y2="781.20" stroke="#000" stroke-width="1.1"/>
<line x1="689.40" y1="781.20" x2="693.40" y2="781.20" stroke="#000" stroke-width="1.1"/>
<text x="483.90" y="780.96" font-size="13.3" text-anchor="end" fill="#000" >0.00</text>
<text transform="translate(447.9,710.0) rotate(-90)" font-size="13.3" text-anchor="middle">CCF / CCCD</text>
<text x="590.25" y="815.90" font-size="13.5" text-anchor="middle" fill="#000" >Lag (days)</text>
</svg>
</body></html>
